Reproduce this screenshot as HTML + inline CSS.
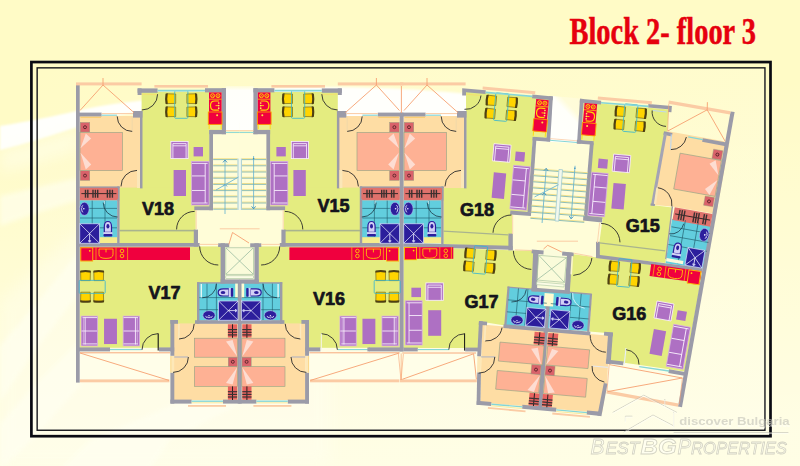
<!DOCTYPE html><html><head><meta charset="utf-8"><title>Block 2 - floor 3</title><style>html,body{margin:0;padding:0;background:#FFFBC6}svg{display:block}</style></head><body>
<svg width="800" height="466" viewBox="0 0 800 466">
<defs><linearGradient id="ing" x1="0" y1="0" x2="1" y2="1"><stop offset="0" stop-color="#FFFFF0" stop-opacity="0"/><stop offset="0.3" stop-color="#FFFFF0" stop-opacity="0.14"/><stop offset="1" stop-color="#FFFFF0" stop-opacity="0.3"/></linearGradient><linearGradient id="allg" x1="0" y1="0" x2="0.08" y2="1"><stop offset="0.25" stop-color="#FFFFF2" stop-opacity="0"/><stop offset="1" stop-color="#FFFFF2" stop-opacity="0.7"/></linearGradient><linearGradient id="rec" x1="0" y1="0" x2="0" y2="1"><stop offset="0" stop-color="#FFFCD8"/><stop offset="0.1" stop-color="#FFFFFA"/><stop offset="1" stop-color="#FFFFFC"/></linearGradient><linearGradient id="rec2" x1="1" y1="0" x2="0.3" y2="1"><stop offset="0" stop-color="#FFFCD8"/><stop offset="0.3" stop-color="#FFFCDA"/><stop offset="0.45" stop-color="#FFFFFA"/><stop offset="1" stop-color="#FFFFFC"/></linearGradient><filter id="bl" x="-20%" y="-20%" width="140%" height="140%"><feGaussianBlur stdDeviation="0.8"/></filter><filter id="bl3" x="-20%" y="-20%" width="140%" height="140%"><feGaussianBlur stdDeviation="2"/></filter><filter id="bl2" x="-20%" y="-20%" width="140%" height="140%"><feGaussianBlur stdDeviation="7"/></filter></defs>
<rect x="0" y="0" width="800" height="466" fill="#FFFBC6" />
<rect x="0" y="0" width="800" height="466" fill="url(#allg)" />
<rect x="37" y="67" width="729" height="364" fill="url(#ing)" />
<g filter="url(#bl2)" opacity="0.35">
<path d="M0 466L0 300L80 230L200 230L330 340L330 466Z" fill="#FFFFF4" stroke="none" stroke-width="1" />
</g>
<g filter="url(#bl3)" opacity="0.6">
<polygon points="80,250 80,292 34,352 0,402 0,346 34,306" fill="#FFFFF2" />
<polygon points="80,340 80,386 34,438 0,470 0,424 34,386" fill="#FFFFF2" />
<polygon points="175,404 240,404 170,440 150,470 60,470 90,440" fill="#FFFFF2" />
<polygon points="0,196 34,188 78,178 78,200 34,214 0,226" fill="#FFFFF2" />
</g>
<g filter="url(#bl)">
<path d="M0 126 C30 121 55 116 76 111 C100 105.5 130 101 170 98 C215 89 300 85 380 88 C440 90 500 96 553 105 C580 112 610 135 640 170 L640 210 C600 165 520 140 440 134 C360 128 250 128 170 112 C130 110 100 118 76 127.5 C50 136 25 144 0 150Z" fill="#FFFFFC" stroke="none" stroke-width="1" />
</g>
<g filter="url(#bl2)" opacity="0.5">
<path d="M0 150 C40 140 60 135 78 128 L78 150 C50 160 25 168 0 172Z" fill="#FFFFF0" stroke="none" stroke-width="1" />
</g>
<rect x="31.4" y="62.05" width="739.1" height="374.15" fill="none" stroke="#0a0a12" stroke-width="2.7"/>
<rect x="37.15" y="67.85" width="727.8" height="362.4" fill="none" stroke="#16161c" stroke-width="1.4"/>
<text x="569.5" y="43.9" font-family="Liberation Serif, serif" font-weight="700" font-size="38" fill="#E6000E" stroke="#E6000E" stroke-width="0.5" textLength="186.5" lengthAdjust="spacingAndGlyphs">Block 2- floor 3</text>
<g>
<rect x="79.6" y="116" width="60.9" height="72" fill="#FEDDA4" />
<rect x="79.6" y="187" width="40" height="13.6" fill="#E0726C" />
<rect x="79.6" y="200.4" width="37.8" height="42.8" fill="#62CEDE" />
<rect x="99.4" y="237.2" width="18" height="6" fill="#F6EC8C" />
<rect x="141.6" y="92" width="80.2" height="38.2" fill="#E4EC80" />
<rect x="141.6" y="130" width="68" height="78" fill="#E4EC80" />
<rect x="119.4" y="187.6" width="78.6" height="55.8" fill="#E4EC80" />
<rect x="225.8" y="86" width="14.1" height="44" fill="url(#rec)" />
<rect x="212.8" y="133.8" width="27.1" height="76.6" fill="#FFFDD8" />
<rect x="195.6" y="209.8" width="44.3" height="35.2" fill="#FFFDD8" />
<rect x="224.8" y="246.8" width="15.1" height="33.2" fill="#FAFBDA" />
<rect x="79.6" y="246.4" width="141.4" height="36.8" fill="#E4EC80" />
<rect x="79.6" y="283" width="118.4" height="64.8" fill="#E4EC80" />
<rect x="199" y="283" width="39" height="37.6" fill="#62CEDE" />
<rect x="174" y="323.4" width="64" height="76.6" fill="#FEDDA4" />
<rect x="79.6" y="351.2" width="91" height="31.2" fill="#FFFEEA" opacity="0.75"/>
</g>
<g transform="translate(479.4 0) scale(-1 1)">
<rect x="79.6" y="116" width="60.9" height="72" fill="#FEDDA4" />
<rect x="79.6" y="187" width="40" height="13.6" fill="#E0726C" />
<rect x="79.6" y="200.4" width="37.8" height="42.8" fill="#62CEDE" />
<rect x="99.4" y="237.2" width="18" height="6" fill="#F6EC8C" />
<rect x="141.6" y="92" width="80.2" height="38.2" fill="#E4EC80" />
<rect x="141.6" y="130" width="68" height="78" fill="#E4EC80" />
<rect x="119.4" y="187.6" width="78.6" height="55.8" fill="#E4EC80" />
<rect x="225.8" y="86" width="14.1" height="44" fill="url(#rec)" />
<rect x="212.8" y="133.8" width="27.1" height="76.6" fill="#FFFDD8" />
<rect x="195.6" y="209.8" width="44.3" height="35.2" fill="#FFFDD8" />
<rect x="224.8" y="246.8" width="15.1" height="33.2" fill="#FAFBDA" />
<rect x="79.6" y="246.4" width="141.4" height="36.8" fill="#E4EC80" />
<rect x="79.6" y="283" width="118.4" height="64.8" fill="#E4EC80" />
<rect x="199" y="283" width="39" height="37.6" fill="#62CEDE" />
<rect x="174" y="323.4" width="64" height="76.6" fill="#FEDDA4" />
<rect x="79.6" y="351.2" width="91" height="31.2" fill="#FFFEEA" opacity="0.75"/>
</g>
<g transform="translate(324 0)">
<rect x="79.6" y="116" width="60.9" height="72" fill="#FEDDA4" />
<rect x="79.6" y="187" width="40" height="13.6" fill="#E0726C" />
<rect x="79.6" y="200.4" width="37.8" height="42.8" fill="#62CEDE" />
<rect x="99.4" y="237.2" width="18" height="6" fill="#F6EC8C" />
</g>
<polygon points="466,91 550.5,98.5 548,138 533,137.5 528,211.5 512.5,214 512.5,247.5 443.5,244 443.5,188 466.3,188" fill="#E4EC80" />
<polygon points="552.6,96 580.2,98.6 577,141.6 550,140.4" fill="url(#rec2)" />
<polygon points="536,141 590.4,144 584.2,217 530.8,212.6" fill="#FFFDD8" />
<polygon points="512.3,214 531,212.4 584,216.8 600,222.4 596.6,256.4 512.5,250" fill="#FFFDD8" />
<polygon points="583.4,102 668.6,109.5 667.4,130 651.4,205 672.2,207.4 665.4,263 597.6,255.5 602.6,219 586,217.8 592,141.5 580.5,140.5" fill="#E4EC80" />
<polygon points="666.8,131 729.4,142.2 716.2,214 672,206.6 651.2,204.8" fill="#FEDDA4" />
<polygon points="672,219 712.8,226 704.8,268.6 665.6,263.2" fill="#62CEDE" />
<polygon points="403.6,246.4 512.5,250.4 534,250.4 532,291.4 508.6,288 505,325.4 480,321.5 478.2,348 403.6,348" fill="#E4EC80" />
<polygon points="571.4,254 597,257.4 702.4,271.4 684.6,371.6 608.8,360.6 612.6,333.6 589.4,331.6 591.6,294.6 568.6,292.6" fill="#E4EC80" />
<polygon points="508.3,287.2 591.2,294.4 588,331 505.4,326" fill="#62CEDE" />
<polygon points="537.6,254 567.4,256.6 565,289.6 535.8,287.4" fill="#FAFBDA" />
<polygon points="543.5,248.8 562.4,250.8 562,258 543.2,256" fill="#FBFCDC" />
<polygon points="482,324.4 609.6,335.8 607,383 602,413 480.4,402.4" fill="#FEDDA4" />
<rect x="403.6" y="351.2" width="73.8" height="31.4" fill="#FFFEEA" opacity="0.75"/>
<polygon points="609.3,363.7 683.2,377 679.7,406 606.7,391" fill="#FFFEEA" opacity="0.75"/>
<g>
<rect x="76" y="112.6" width="25.6" height="3.8" fill="#9B9BA8" />
<rect x="133" y="111" width="9.4" height="6.6" fill="#9B9BA8" />
<rect x="140" y="111" width="2.5" height="77.4" fill="#9B9BA8" />
<rect x="79.6" y="186.4" width="40" height="1.4" fill="#9B9BA8" />
<rect x="117.2" y="186.4" width="2.4" height="57.6" fill="#9B9BA8" />
<rect x="137.6" y="88.4" width="20" height="4.4" fill="#9B9BA8" />
<rect x="137.6" y="88.4" width="4" height="6.6" fill="#9B9BA8" />
<rect x="205" y="88.2" width="21" height="4.2" fill="#9B9BA8" />
<rect x="221.7" y="88.2" width="4.3" height="46" fill="#9B9BA8" />
<rect x="209.3" y="129.8" width="16.7" height="4.4" fill="#9B9BA8" />
<rect x="209.3" y="129.8" width="3.7" height="80.4" fill="#9B9BA8" />
<rect x="194.3" y="206.4" width="18.7" height="3.8" fill="#9B9BA8" />
<rect x="119.4" y="229.8" width="75.6" height="1.6" fill="#A9B48E" />
<rect x="193.8" y="229.6" width="4.2" height="17" fill="#9B9BA8" />
<rect x="76" y="243" width="123.6" height="3.7" fill="#9B9BA8" />
<rect x="218.1" y="243.3" width="11.1" height="3.7" fill="#9B9BA8" />
<rect x="220.6" y="243.3" width="4.4" height="40.1" fill="#9B9BA8" />
<rect x="220.6" y="279.4" width="19.3" height="4.1" fill="#9B9BA8" />
<rect x="197.2" y="282.2" width="42.7" height="1.4" fill="#9B9BA8" />
<rect x="197" y="282.2" width="2.4" height="41.4" fill="#9B9BA8" />
<rect x="195" y="320.2" width="44.9" height="3.6" fill="#9B9BA8" />
<rect x="237.7" y="283" width="2.2" height="120.6" fill="#9B9BA8" />
<rect x="235.2" y="283.6" width="2.6" height="14.4" fill="#FFFBD0" />
<rect x="76" y="347.4" width="34" height="4" fill="#9B9BA8" />
<rect x="159" y="347.4" width="15.2" height="4" fill="#9B9BA8" />
<rect x="170.4" y="320" width="3.9" height="35.8" fill="#9B9BA8" />
<rect x="170.4" y="320" width="7.6" height="3.8" fill="#9B9BA8" />
<rect x="170.4" y="372.6" width="3.9" height="31" fill="#9B9BA8" />
<rect x="170.4" y="399.6" width="21.2" height="4" fill="#9B9BA8" />
<rect x="223" y="399.6" width="16.9" height="4" fill="#9B9BA8" />
</g>
<g transform="translate(479.4 0) scale(-1 1)">
<rect x="76" y="112.6" width="25.6" height="3.8" fill="#9B9BA8" />
<rect x="133" y="111" width="9.4" height="6.6" fill="#9B9BA8" />
<rect x="140" y="111" width="2.5" height="77.4" fill="#9B9BA8" />
<rect x="79.6" y="186.4" width="40" height="1.4" fill="#9B9BA8" />
<rect x="117.2" y="186.4" width="2.4" height="57.6" fill="#9B9BA8" />
<rect x="137.6" y="88.4" width="20" height="4.4" fill="#9B9BA8" />
<rect x="137.6" y="88.4" width="4" height="6.6" fill="#9B9BA8" />
<rect x="205" y="88.2" width="21" height="4.2" fill="#9B9BA8" />
<rect x="221.7" y="88.2" width="4.3" height="46" fill="#9B9BA8" />
<rect x="209.3" y="129.8" width="16.7" height="4.4" fill="#9B9BA8" />
<rect x="209.3" y="129.8" width="3.7" height="80.4" fill="#9B9BA8" />
<rect x="194.3" y="206.4" width="18.7" height="3.8" fill="#9B9BA8" />
<rect x="119.4" y="229.8" width="75.6" height="1.6" fill="#A9B48E" />
<rect x="193.8" y="229.6" width="4.2" height="17" fill="#9B9BA8" />
<rect x="76" y="243" width="123.6" height="3.7" fill="#9B9BA8" />
<rect x="218.1" y="243.3" width="11.1" height="3.7" fill="#9B9BA8" />
<rect x="220.6" y="243.3" width="4.4" height="40.1" fill="#9B9BA8" />
<rect x="220.6" y="279.4" width="19.3" height="4.1" fill="#9B9BA8" />
<rect x="197.2" y="282.2" width="42.7" height="1.4" fill="#9B9BA8" />
<rect x="197" y="282.2" width="2.4" height="41.4" fill="#9B9BA8" />
<rect x="195" y="320.2" width="44.9" height="3.6" fill="#9B9BA8" />
<rect x="237.7" y="283" width="2.2" height="120.6" fill="#9B9BA8" />
<rect x="235.2" y="283.6" width="2.6" height="14.4" fill="#FFFBD0" />
<rect x="76" y="347.4" width="34" height="4" fill="#9B9BA8" />
<rect x="159" y="347.4" width="15.2" height="4" fill="#9B9BA8" />
<rect x="170.4" y="320" width="3.9" height="35.8" fill="#9B9BA8" />
<rect x="170.4" y="320" width="7.6" height="3.8" fill="#9B9BA8" />
<rect x="170.4" y="372.6" width="3.9" height="31" fill="#9B9BA8" />
<rect x="170.4" y="399.6" width="21.2" height="4" fill="#9B9BA8" />
<rect x="223" y="399.6" width="16.9" height="4" fill="#9B9BA8" />
</g>
<g transform="translate(324 0)">
<rect x="76" y="112.6" width="25.6" height="3.8" fill="#9B9BA8" />
<rect x="133" y="111" width="9.4" height="6.6" fill="#9B9BA8" />
<rect x="140" y="111" width="2.5" height="77.4" fill="#9B9BA8" />
<rect x="79.6" y="186.4" width="40" height="1.4" fill="#9B9BA8" />
<rect x="117.2" y="186.4" width="2.4" height="57.6" fill="#9B9BA8" />
</g>
<rect x="76" y="83" width="3.7" height="299.6" fill="#9B9BA8" />
<rect x="399.7" y="113" width="3.9" height="238.4" fill="#9B9BA8" />
<polygon points="403.6,243 512.6,245.9 512.6,249.8 403.6,246.7" fill="#9B9BA8" />
<polygon points="443.4,230.4 508,234.2 508,235.6 443.4,231.8" fill="#A9B48E" />
<rect x="508.4" y="233.6" width="4.4" height="16.8" fill="#9B9BA8" />
<polygon points="462.2,88.2 485.8,90.3 485.5,94 466,92.3 466,95.6 462.2,95.4" fill="#9B9BA8" />
<polygon points="532.3,94.6 552.9,96.4 552.6,100.2 532,98.3" fill="#9B9BA8" />
<polygon points="549.2,96.1 552.9,96.4 550.2,141.6 546.5,141.3" fill="#9B9BA8" />
<polygon points="532.8,136.8 550.3,138.1 550,141.7 532.5,140.6" fill="#9B9BA8" />
<polygon points="532.8,137 536.5,137.2 531.3,212.6 527.5,212.3" fill="#9B9BA8" />
<polygon points="510.4,210.6 531.2,212.2 530.9,216 510.1,214.4" fill="#9B9BA8" />
<polygon points="580,98.8 601.2,100.7 600.9,104.4 579.7,102.5" fill="#9B9BA8" />
<polygon points="580,98.8 583.7,99.1 580.7,143.7 577,143.4" fill="#9B9BA8" />
<polygon points="576.9,139.8 593.8,141.1 593.5,144.8 576.6,143.5" fill="#9B9BA8" />
<polygon points="589.9,143 593.7,143.3 587.6,217.6 583.8,217.3" fill="#9B9BA8" />
<polygon points="583.4,215.6 602.4,217.4 602,222.4 583,220.4" fill="#9B9BA8" />
<polygon points="648.4,104 671.9,105.9 671.4,112.2 668,111.9 668.2,109.2 648.1,107.6" fill="#9B9BA8" />
<polygon points="664,131.2 672.5,132.9 671.8,136.4 663.3,134.8" fill="#9B9BA8" />
<polygon points="702.8,138.2 726.4,142.6 725.7,146.2 702.1,141.8" fill="#9B9BA8" />
<polygon points="663.92,133.23 650.92,205.13 653.88,205.67 666.88,133.77" fill="#A4A4B4" />
<polygon points="730.6,111.4 734.6,112.1 682,407.2 678,406.4" fill="#9B9BA8" />
<polygon points="671.71,206.31 665.11,258.91 666.49,259.09 673.09,206.49" fill="#9B9BA8" />
<polygon points="650.6,203.4 655,204 654.8,206 650.4,205.4" fill="#9B9BA8" />
<polygon points="596.2,254.4 702.8,268 702.2,271.6 595.8,258" fill="#9B9BA8" />
<rect x="596" y="241.8" width="3.8" height="14.2" fill="#9B9BA8" />
<polygon points="599.6,242.2 665.4,250.2 665.2,251.4 599.4,243.4" fill="#A9B48E" />
<polygon points="531.8,249.4 543.7,250.6 543.4,254.4 531.5,253.2" fill="#9B9BA8" />
<polygon points="562.3,251.6 573.8,252.7 573.5,256.6 562,255.5" fill="#9B9BA8" />
<polygon points="533.2,250 538.7,250.4 536.9,291.6 531.5,291.2" fill="#9B9BA8" />
<polygon points="567.2,252.3 572.5,252.8 569.7,293.3 564.5,292.9" fill="#9B9BA8" />
<polygon points="531.7,287.6 569.9,290.4 569.6,294 531.4,291.2" fill="#9B9BA8" />
<polygon points="507.6,286.4 591.8,293.6 591.7,295 507.5,287.8" fill="#9B9BA8" />
<polygon points="507.5,286.51 504.1,326.51 506.3,326.69 509.7,286.69" fill="#9B9BA8" />
<polygon points="589.9,293.92 587.1,331.72 589.3,331.88 592.1,294.08" fill="#9B9BA8" />
<polygon points="503.6,324.2 590.4,331.8 590.1,335.6 503.3,328" fill="#9B9BA8" />
<polygon points="479,321 487.2,321.8 486.9,325.5 478.7,324.7" fill="#9B9BA8" />
<polygon points="604.2,331.8 613,332.6 612.7,336.4 603.9,335.6" fill="#9B9BA8" />
<rect x="0" y="0" width="0" height="0" fill="#9B9BA8" />
<polygon points="545.6,306 549.7,306.3 542,408.6 537.9,408.3" fill="#9B9BA8" />
<polygon points="544.6,293 553.8,293.7 553,306.6 543.8,305.9" fill="#FFFBD0" />
<polygon points="479,321 482.8,321.3 481,356.4 477.2,356.2" fill="#9B9BA8" />
<polygon points="477.2,372.2 481,372.4 480.4,405 476.6,404.8" fill="#9B9BA8" />
<rect x="403.6" y="347.6" width="14.2" height="3.8" fill="#9B9BA8" />
<rect x="465.2" y="347.6" width="13.2" height="3.8" fill="#9B9BA8" />
<polygon points="476.8,400.8 491.4,402.1 491.1,406 476.5,404.7" fill="#9B9BA8" />
<polygon points="522.4,404.8 556.4,407.8 556.1,411.8 522.1,408.8" fill="#9B9BA8" />
<polygon points="587,410.4 601.4,411.7 600.4,416 586.6,414.4" fill="#9B9BA8" />
<polygon points="608.2,332.4 612.9,332.8 610.6,364.2 606,363.8" fill="#9B9BA8" />
<polygon points="603.8,383 607.5,383.7 601.4,416.2 597.4,415.4" fill="#9B9BA8" />
<polygon points="606.3,359.4 623.6,361.6 623.1,365.2 605.8,363.2" fill="#9B9BA8" />
<polygon points="669,369.3 686.2,372.3 685.6,376 668.4,373" fill="#9B9BA8" />
<g>
<g transform="translate(85 127.2)">
<rect x="-4.8" y="-4.8" width="9.6" height="9.6" fill="#D9626A" stroke="#8FA383" stroke-width="0.4"/>
<circle cx="0" cy="0" r="1.5" fill="none" stroke="#3a1418" stroke-width="0.7"/>
</g>
<g transform="translate(85 175.6)">
<rect x="-4.8" y="-4.8" width="9.6" height="9.6" fill="#D9626A" stroke="#8FA383" stroke-width="0.4"/>
<circle cx="0" cy="0" r="1.5" fill="none" stroke="#3a1418" stroke-width="0.7"/>
</g>
<g transform="translate(101.2 151.5)">
<rect x="-21.2" y="-19.1" width="42.4" height="38.2" fill="#FEB194" stroke="#8FA383" stroke-width="0.6"/>
</g>
<polygon points="80.5,148.2 85.8,133.6 91.2,138.4" fill="#FDDDD2" />
<polygon points="80.5,152.8 85.8,169.6 91.2,164.4" fill="#FDDDD2" />
<g transform="translate(99 193.6)">
<rect x="-19" y="-5.3" width="38" height="10.6" fill="#E0726C"/>
<line x1="-17.6" y1="0" x2="17.4" y2="0" stroke="#2a2020" stroke-width="0.9"/>
<line x1="-13.5" y1="-3.8" x2="-13.5" y2="4.1" stroke="#3a3030" stroke-width="1.4"/>
<line x1="-11.2" y1="-3.8" x2="-11.2" y2="4.1" stroke="#3a3030" stroke-width="1.4"/>
<line x1="-6" y1="-3.8" x2="-6" y2="4.1" stroke="#3a3030" stroke-width="1.4"/>
<line x1="-3.6" y1="-3.8" x2="-3.6" y2="4.1" stroke="#3a3030" stroke-width="1.4"/>
<line x1="-1.3" y1="-3.8" x2="-1.3" y2="4.1" stroke="#3a3030" stroke-width="1.4"/>
<line x1="8.4" y1="-3.8" x2="8.4" y2="4.1" stroke="#3a3030" stroke-width="1.4"/>
<line x1="10.9" y1="-3.8" x2="10.9" y2="4.1" stroke="#3a3030" stroke-width="1.4"/>
<line x1="13.4" y1="-3.8" x2="13.4" y2="4.1" stroke="#3a3030" stroke-width="1.4"/>
</g>
<line x1="92.2" y1="200.6" x2="92.2" y2="236.6" stroke="#1d5868" stroke-width="0.6" />
<line x1="105" y1="200.6" x2="105" y2="236.6" stroke="#1d5868" stroke-width="0.6" />
<line x1="80" y1="208.4" x2="117" y2="208.4" stroke="#1d5868" stroke-width="0.6" />
<line x1="80" y1="218" x2="117" y2="218" stroke="#1d5868" stroke-width="0.6" />
<line x1="80" y1="227.8" x2="117" y2="227.8" stroke="#1d5868" stroke-width="0.6" />
<g transform="translate(84.4 208.8)">
<ellipse cx="0" cy="0" rx="4.7" ry="6.5" fill="#2C1E9C" stroke="#C8CCF4" stroke-width="0.5"/>
<path d="M-1.2 -3.4Q-3.4 -2.6 -2.4 -1.2Q-3.8 0 -2.4 1.2Q-3.4 2.6 -1.2 3.4" fill="none" stroke="#F0F0FF" stroke-width="0.8"/>
<circle cx="-0.6" cy="0" r="0.8" fill="#F0F0FF"/>
</g>
<g transform="translate(89.6 233.5)">
<rect x="-9.8" y="-9.7" width="19.6" height="19.4" fill="#2C1E9C" stroke="#D6DCFA" stroke-width="0.7"/>
<path d="M-9.8 -9.7L9.8 9.7M9.8 -9.7L-9.8 9.7" stroke="#EEF0FF" stroke-width="0.7" fill="none"/>
<g transform="rotate(0)"><path d="M0 0V7.3M-1.6 7.3H1.6" stroke="#EEF0FF" stroke-width="0.8" fill="none"/><circle cx="0" cy="7.9" r="1.1" fill="#C8CCF4"/></g>
</g>
<g transform="translate(107.9 228.9)">
<path d="M-3.6 3.4V-2.4Q-3.6 -7.4 0 -7.4Q3.6 -7.4 3.6 -2.4V3.4Z" fill="#D2D0F6" stroke="#2C1E9C" stroke-width="1.2"/>
<ellipse cx="0" cy="-2.6" rx="1.5" ry="2.3" fill="#2C1E9C"/>
<rect x="-4.6" y="3.2" width="9.2" height="2.2" fill="#D2D0F6"/>
<rect x="-4.4" y="5.2" width="8.8" height="2.4" rx="0.8" fill="#2C1E9C"/>
</g>
<g transform="translate(181.3 105.3)">
<g transform="translate(-10.6 -6.6) rotate(270)">
<path d="M-4.9 -3.6Q0 -4.4 4.9 -3.6L4.7 5L-4.7 5Z" fill="#FFD400" stroke="#7a6a18" stroke-width="0.7" />
<path d="M-5.4 -3Q-5.6 -4.6 -5 -5.2Q0 -6 5 -5.2Q5.6 -4.6 5.4 -3Q0 -4 -5.4 -3Z" fill="#4e4012" stroke="none" stroke-width="1" />
</g>
<g transform="translate(-10.6 6.5) rotate(270)">
<path d="M-4.9 -3.6Q0 -4.4 4.9 -3.6L4.7 5L-4.7 5Z" fill="#FFD400" stroke="#7a6a18" stroke-width="0.7" />
<path d="M-5.4 -3Q-5.6 -4.6 -5 -5.2Q0 -6 5 -5.2Q5.6 -4.6 5.4 -3Q0 -4 -5.4 -3Z" fill="#4e4012" stroke="none" stroke-width="1" />
</g>
<g transform="translate(10.6 -6.6) rotate(90)">
<path d="M-4.9 -3.6Q0 -4.4 4.9 -3.6L4.7 5L-4.7 5Z" fill="#FFD400" stroke="#7a6a18" stroke-width="0.7" />
<path d="M-5.4 -3Q-5.6 -4.6 -5 -5.2Q0 -6 5 -5.2Q5.6 -4.6 5.4 -3Q0 -4 -5.4 -3Z" fill="#4e4012" stroke="none" stroke-width="1" />
</g>
<g transform="translate(10.6 6.5) rotate(90)">
<path d="M-4.9 -3.6Q0 -4.4 4.9 -3.6L4.7 5L-4.7 5Z" fill="#FFD400" stroke="#7a6a18" stroke-width="0.7" />
<path d="M-5.4 -3Q-5.6 -4.6 -5 -5.2Q0 -6 5 -5.2Q5.6 -4.6 5.4 -3Q0 -4 -5.4 -3Z" fill="#4e4012" stroke="none" stroke-width="1" />
</g>
<rect x="-6.6" y="-14.6" width="13.2" height="27.6" rx="1" fill="none" stroke="#35b4d2" stroke-width="0.8"/>
</g>
<g transform="translate(215.3 108.4)">
<rect x="-6.3" y="15.5" width="12.6" height="5.8" fill="#EDF08E"/>
<rect x="-6.3" y="-16" width="12.6" height="32" fill="#F0003E"/>
<circle cx="-2.7" cy="-12.7" r="2" fill="none" stroke="#FFD800" stroke-width="0.9"/><circle cx="2.7" cy="-12.7" r="2" fill="none" stroke="#FFD800" stroke-width="0.9"/>
<path d="M-4 -14L-1.4 -11.4M-1.4 -14L-4 -11.4M1.4 -14L4 -11.4M4 -14L1.4 -11.4" fill="none" stroke="#FFD800" stroke-width="0.5"/>
<line x1="-6.3" y1="-9.2" x2="6.3" y2="-9.2" stroke="#FFD800" stroke-width="0.7"/>
<path d="M3.6 -7.4H-0.6Q-4.8 -7.4 -4.8 -2.8Q-4.8 1.8 -0.6 1.8H3.6" fill="none" stroke="#FFD800" stroke-width="1.2"/>
<line x1="0.2" y1="-2.8" x2="3" y2="-2.8" stroke="#FFD800" stroke-width="0.9"/>
<circle cx="3.4" cy="-5.4" r="0.85" fill="#FFE860"/>
<circle cx="3.4" cy="-2.8" r="0.85" fill="#FFE860"/>
<circle cx="3.4" cy="-0.2" r="0.85" fill="#FFE860"/>
<rect x="-7" y="3.6" width="13.7" height="12.4" fill="#F0003E" stroke="#FF9800" stroke-width="0.9"/>
<circle cx="1.8" cy="6.8" r="1" fill="#FFE040"/>
<path d="M-6.1 16V20.8M5.9 16V20.8" stroke="#FFD800" stroke-width="0.8" fill="none"/>
</g>
<g transform="translate(179.5 150)">
<rect x="-8.6" y="-8.6" width="17.2" height="17.2" fill="#AE70C3" stroke="#FBF3FF" stroke-width="0.8"/>
<path d="M-6.6 8.6V-6.4H6.6V8.6M-6.6 -4.2H6.6" fill="none" stroke="#FBF3FF" stroke-width="0.8"/>
</g>
<g transform="translate(198.3 151.7)">
<rect x="-4.7" y="-4.7" width="9.4" height="9.4" fill="#AE70C3"/>
</g>
<g transform="translate(179.8 183)">
<rect x="-6.2" y="-13" width="12.4" height="26" fill="#AE70C3"/>
</g>
<g transform="translate(200.3 183.2)">
<rect x="-8.7" y="-21.8" width="17.4" height="43.6" fill="#AE70C3" stroke="#D9B0E8" stroke-width="0.7"/>
<path d="M4.9 -19.8V19.8M-8.3 -19.8H7.3M-8.3 19.8H7.3M-8.3 -7.27H4.9M-8.3 7.27H4.9" fill="none" stroke="#FBF3FF" stroke-width="0.85"/>
</g>
<g transform="translate(80.4 247.4)">
<rect x="0" y="0" width="109.6" height="12.6" fill="#F0003E"/>
<rect x="0" y="0" width="12.6" height="13.8" fill="#F0003E"/>
<rect x="0.4" y="0.4" width="12" height="13.2" fill="none" stroke="#FFD800" stroke-width="0.8"/>
<circle cx="9.4" cy="3.4" r="0.9" fill="#FFD800"/>
<path d="M18.6 1.6V7Q18.6 11 25.6 11Q32.6 11 32.6 7V1.6Z" fill="none" stroke="#FFD800" stroke-width="0.8"/>
<line x1="25.6" y1="1.6" x2="25.6" y2="5" stroke="#FFD800" stroke-width="0.8"/>
<line x1="15.6" y1="0" x2="15.6" y2="12.6" stroke="#FFD800" stroke-width="0.6"/>
<line x1="35.6" y1="0" x2="35.6" y2="12.6" stroke="#FFD800" stroke-width="0.6"/>
<circle cx="41.6" cy="3.6" r="1.8" fill="none" stroke="#FFD800" stroke-width="0.8"/><circle cx="41.6" cy="8.6" r="1.8" fill="none" stroke="#FFD800" stroke-width="0.8"/>
<line x1="47.2" y1="0" x2="47.2" y2="12.6" stroke="#FFD800" stroke-width="0.6"/>
</g>
<g transform="translate(92.2 286.6)">
<g transform="translate(-6.7 -11)">
<path d="M-4.9 -3.6Q0 -4.4 4.9 -3.6L4.7 5L-4.7 5Z" fill="#FFD400" stroke="#7a6a18" stroke-width="0.7" />
<path d="M-5.4 -3Q-5.6 -4.6 -5 -5.2Q0 -6 5 -5.2Q5.6 -4.6 5.4 -3Q0 -4 -5.4 -3Z" fill="#4e4012" stroke="none" stroke-width="1" />
</g>
<g transform="translate(-6.7 10.6) rotate(180)">
<path d="M-4.9 -3.6Q0 -4.4 4.9 -3.6L4.7 5L-4.7 5Z" fill="#FFD400" stroke="#7a6a18" stroke-width="0.7" />
<path d="M-5.4 -3Q-5.6 -4.6 -5 -5.2Q0 -6 5 -5.2Q5.6 -4.6 5.4 -3Q0 -4 -5.4 -3Z" fill="#4e4012" stroke="none" stroke-width="1" />
</g>
<g transform="translate(6.5 -11)">
<path d="M-4.9 -3.6Q0 -4.4 4.9 -3.6L4.7 5L-4.7 5Z" fill="#FFD400" stroke="#7a6a18" stroke-width="0.7" />
<path d="M-5.4 -3Q-5.6 -4.6 -5 -5.2Q0 -6 5 -5.2Q5.6 -4.6 5.4 -3Q0 -4 -5.4 -3Z" fill="#4e4012" stroke="none" stroke-width="1" />
</g>
<g transform="translate(6.5 10.6) rotate(180)">
<path d="M-4.9 -3.6Q0 -4.4 4.9 -3.6L4.7 5L-4.7 5Z" fill="#FFD400" stroke="#7a6a18" stroke-width="0.7" />
<path d="M-5.4 -3Q-5.6 -4.6 -5 -5.2Q0 -6 5 -5.2Q5.6 -4.6 5.4 -3Q0 -4 -5.4 -3Z" fill="#4e4012" stroke="none" stroke-width="1" />
</g>
<rect x="-13" y="-6.2" width="26" height="13" rx="1" fill="none" stroke="#35b4d2" stroke-width="0.8"/>
</g>
<g transform="translate(89.3 331)">
<rect x="-8.15" y="-14.9" width="16.3" height="29.8" fill="#AE70C3" stroke="#D9B0E8" stroke-width="0.7"/>
<path d="M-4.15 -13.5V13.5M-6.75 -13.4H7.75M-6.75 12.9H7.75M-7.75 0H7.75" fill="none" stroke="#FBF3FF" stroke-width="0.85"/>
<path d="M-5.95 -13.5V13.5" fill="none" stroke="#E6CCF0" stroke-width="0.6"/>
</g>
<g transform="translate(110.5 331.4)">
<rect x="-6.45" y="-12.65" width="12.9" height="25.3" fill="#AE70C3"/>
</g>
<g transform="translate(131.3 331) scale(-1 1)">
<rect x="-8.15" y="-14.9" width="16.3" height="29.8" fill="#AE70C3" stroke="#D9B0E8" stroke-width="0.7"/>
<path d="M-4.15 -13.5V13.5M-6.75 -13.4H7.75M-6.75 12.9H7.75M-7.75 0H7.75" fill="none" stroke="#FBF3FF" stroke-width="0.85"/>
<path d="M-5.95 -13.5V13.5" fill="none" stroke="#E6CCF0" stroke-width="0.6"/>
</g>
<line x1="207" y1="283.6" x2="207" y2="320" stroke="#1d5868" stroke-width="0.6" />
<line x1="216.4" y1="283.6" x2="216.4" y2="320" stroke="#1d5868" stroke-width="0.6" />
<line x1="199.4" y1="297.6" x2="237.8" y2="297.6" stroke="#1d5868" stroke-width="0.6" />
<line x1="199.4" y1="309.7" x2="237.8" y2="309.7" stroke="#1d5868" stroke-width="0.6" />
<g transform="translate(225.6 292.4) rotate(-90)">
<path d="M-3.6 3.4V-2.4Q-3.6 -7.4 0 -7.4Q3.6 -7.4 3.6 -2.4V3.4Z" fill="#D2D0F6" stroke="#2C1E9C" stroke-width="1.2"/>
<ellipse cx="0" cy="-2.6" rx="1.5" ry="2.3" fill="#2C1E9C"/>
<rect x="-4.6" y="3.2" width="9.2" height="2.2" fill="#D2D0F6"/>
<rect x="-4.4" y="5.2" width="8.8" height="2.4" rx="0.8" fill="#2C1E9C"/>
</g>
<g transform="translate(228.3 310.6)">
<rect x="-9.7" y="-9.6" width="19.4" height="19.2" fill="#2C1E9C" stroke="#D6DCFA" stroke-width="0.7"/>
<path d="M-9.7 -9.6L9.7 9.6M9.7 -9.6L-9.7 9.6" stroke="#EEF0FF" stroke-width="0.7" fill="none"/>
<g transform="rotate(270)"><path d="M0 0V7.2M-1.6 7.2H1.6" stroke="#EEF0FF" stroke-width="0.8" fill="none"/><circle cx="0" cy="7.8" r="1.1" fill="#C8CCF4"/></g>
</g>
<g transform="translate(209 315.3)">
<ellipse cx="0" cy="0" rx="6.1" ry="4.6" fill="#2C1E9C" stroke="#C8CCF4" stroke-width="0.5"/>
<path d="M-3.4 0.6Q-2.6 3.2 -1.2 1.8Q0 3.6 1.2 1.8Q2.6 3.2 3.4 0.6" fill="none" stroke="#F0F0FF" stroke-width="0.8"/>
<circle cx="0" cy="0.4" r="0.7" fill="#F0F0FF"/>
</g>
<g transform="translate(232.5 330.9)">
<rect x="-4.6" y="-6.6" width="9.2" height="13.2" fill="#E86460"/>
<line x1="0" y1="-6.6" x2="0" y2="7" stroke="#2a2020" stroke-width="1"/>
<line x1="-4.6" y1="-1.3" x2="4.6" y2="-1.3" stroke="#3a3434" stroke-width="1.2"/>
<line x1="-4.6" y1="1.4" x2="4.6" y2="1.4" stroke="#3a3434" stroke-width="1.2"/>
<line x1="-4.6" y1="4" x2="4.6" y2="4" stroke="#3a3434" stroke-width="1.2"/>
</g>
<g transform="translate(216 347.7)">
<rect x="-21.6" y="-9.5" width="43.2" height="19" fill="#FEB194" stroke="#8FA383" stroke-width="0.6"/>
</g>
<g transform="translate(216 376.5)">
<rect x="-21.6" y="-9.8" width="43.2" height="19.6" fill="#FEB194" stroke="#8FA383" stroke-width="0.6"/>
</g>
<g transform="translate(232.8 361.8)">
<rect x="-4.6" y="-4.6" width="9.2" height="9.2" fill="#D9626A" stroke="#8FA383" stroke-width="0.4"/>
<circle cx="0" cy="0" r="1.5" fill="none" stroke="#3a1418" stroke-width="0.7"/>
</g>
<polygon points="226,341.5 232.6,340 237.2,356.5" fill="#FDDDD2" />
<polygon points="237.2,367.2 232.6,384.5 226,383" fill="#FDDDD2" />
<g transform="translate(232.5 393)">
<rect x="-4.6" y="-6.6" width="9.2" height="13.2" fill="#E86460"/>
<line x1="0" y1="-6.6" x2="0" y2="7" stroke="#2a2020" stroke-width="1"/>
<line x1="-4.6" y1="-1.3" x2="4.6" y2="-1.3" stroke="#3a3434" stroke-width="1.2"/>
<line x1="-4.6" y1="1.4" x2="4.6" y2="1.4" stroke="#3a3434" stroke-width="1.2"/>
<line x1="-4.6" y1="4" x2="4.6" y2="4" stroke="#3a3434" stroke-width="1.2"/>
</g>
</g>
<g transform="translate(479.4 0) scale(-1 1)">
<g transform="translate(85 127.2)">
<rect x="-4.8" y="-4.8" width="9.6" height="9.6" fill="#D9626A" stroke="#8FA383" stroke-width="0.4"/>
<circle cx="0" cy="0" r="1.5" fill="none" stroke="#3a1418" stroke-width="0.7"/>
</g>
<g transform="translate(85 175.6)">
<rect x="-4.8" y="-4.8" width="9.6" height="9.6" fill="#D9626A" stroke="#8FA383" stroke-width="0.4"/>
<circle cx="0" cy="0" r="1.5" fill="none" stroke="#3a1418" stroke-width="0.7"/>
</g>
<g transform="translate(101.2 151.5)">
<rect x="-21.2" y="-19.1" width="42.4" height="38.2" fill="#FEB194" stroke="#8FA383" stroke-width="0.6"/>
</g>
<polygon points="80.5,148.2 85.8,133.6 91.2,138.4" fill="#FDDDD2" />
<polygon points="80.5,152.8 85.8,169.6 91.2,164.4" fill="#FDDDD2" />
<g transform="translate(99 193.6)">
<rect x="-19" y="-5.3" width="38" height="10.6" fill="#E0726C"/>
<line x1="-17.6" y1="0" x2="17.4" y2="0" stroke="#2a2020" stroke-width="0.9"/>
<line x1="-13.5" y1="-3.8" x2="-13.5" y2="4.1" stroke="#3a3030" stroke-width="1.4"/>
<line x1="-11.2" y1="-3.8" x2="-11.2" y2="4.1" stroke="#3a3030" stroke-width="1.4"/>
<line x1="-6" y1="-3.8" x2="-6" y2="4.1" stroke="#3a3030" stroke-width="1.4"/>
<line x1="-3.6" y1="-3.8" x2="-3.6" y2="4.1" stroke="#3a3030" stroke-width="1.4"/>
<line x1="-1.3" y1="-3.8" x2="-1.3" y2="4.1" stroke="#3a3030" stroke-width="1.4"/>
<line x1="8.4" y1="-3.8" x2="8.4" y2="4.1" stroke="#3a3030" stroke-width="1.4"/>
<line x1="10.9" y1="-3.8" x2="10.9" y2="4.1" stroke="#3a3030" stroke-width="1.4"/>
<line x1="13.4" y1="-3.8" x2="13.4" y2="4.1" stroke="#3a3030" stroke-width="1.4"/>
</g>
<line x1="92.2" y1="200.6" x2="92.2" y2="236.6" stroke="#1d5868" stroke-width="0.6" />
<line x1="105" y1="200.6" x2="105" y2="236.6" stroke="#1d5868" stroke-width="0.6" />
<line x1="80" y1="208.4" x2="117" y2="208.4" stroke="#1d5868" stroke-width="0.6" />
<line x1="80" y1="218" x2="117" y2="218" stroke="#1d5868" stroke-width="0.6" />
<line x1="80" y1="227.8" x2="117" y2="227.8" stroke="#1d5868" stroke-width="0.6" />
<g transform="translate(84.4 208.8)">
<ellipse cx="0" cy="0" rx="4.7" ry="6.5" fill="#2C1E9C" stroke="#C8CCF4" stroke-width="0.5"/>
<path d="M-1.2 -3.4Q-3.4 -2.6 -2.4 -1.2Q-3.8 0 -2.4 1.2Q-3.4 2.6 -1.2 3.4" fill="none" stroke="#F0F0FF" stroke-width="0.8"/>
<circle cx="-0.6" cy="0" r="0.8" fill="#F0F0FF"/>
</g>
<g transform="translate(89.6 233.5)">
<rect x="-9.8" y="-9.7" width="19.6" height="19.4" fill="#2C1E9C" stroke="#D6DCFA" stroke-width="0.7"/>
<path d="M-9.8 -9.7L9.8 9.7M9.8 -9.7L-9.8 9.7" stroke="#EEF0FF" stroke-width="0.7" fill="none"/>
<g transform="rotate(0)"><path d="M0 0V7.3M-1.6 7.3H1.6" stroke="#EEF0FF" stroke-width="0.8" fill="none"/><circle cx="0" cy="7.9" r="1.1" fill="#C8CCF4"/></g>
</g>
<g transform="translate(107.9 228.9)">
<path d="M-3.6 3.4V-2.4Q-3.6 -7.4 0 -7.4Q3.6 -7.4 3.6 -2.4V3.4Z" fill="#D2D0F6" stroke="#2C1E9C" stroke-width="1.2"/>
<ellipse cx="0" cy="-2.6" rx="1.5" ry="2.3" fill="#2C1E9C"/>
<rect x="-4.6" y="3.2" width="9.2" height="2.2" fill="#D2D0F6"/>
<rect x="-4.4" y="5.2" width="8.8" height="2.4" rx="0.8" fill="#2C1E9C"/>
</g>
<g transform="translate(181.3 105.3)">
<g transform="translate(-10.6 -6.6) rotate(270)">
<path d="M-4.9 -3.6Q0 -4.4 4.9 -3.6L4.7 5L-4.7 5Z" fill="#FFD400" stroke="#7a6a18" stroke-width="0.7" />
<path d="M-5.4 -3Q-5.6 -4.6 -5 -5.2Q0 -6 5 -5.2Q5.6 -4.6 5.4 -3Q0 -4 -5.4 -3Z" fill="#4e4012" stroke="none" stroke-width="1" />
</g>
<g transform="translate(-10.6 6.5) rotate(270)">
<path d="M-4.9 -3.6Q0 -4.4 4.9 -3.6L4.7 5L-4.7 5Z" fill="#FFD400" stroke="#7a6a18" stroke-width="0.7" />
<path d="M-5.4 -3Q-5.6 -4.6 -5 -5.2Q0 -6 5 -5.2Q5.6 -4.6 5.4 -3Q0 -4 -5.4 -3Z" fill="#4e4012" stroke="none" stroke-width="1" />
</g>
<g transform="translate(10.6 -6.6) rotate(90)">
<path d="M-4.9 -3.6Q0 -4.4 4.9 -3.6L4.7 5L-4.7 5Z" fill="#FFD400" stroke="#7a6a18" stroke-width="0.7" />
<path d="M-5.4 -3Q-5.6 -4.6 -5 -5.2Q0 -6 5 -5.2Q5.6 -4.6 5.4 -3Q0 -4 -5.4 -3Z" fill="#4e4012" stroke="none" stroke-width="1" />
</g>
<g transform="translate(10.6 6.5) rotate(90)">
<path d="M-4.9 -3.6Q0 -4.4 4.9 -3.6L4.7 5L-4.7 5Z" fill="#FFD400" stroke="#7a6a18" stroke-width="0.7" />
<path d="M-5.4 -3Q-5.6 -4.6 -5 -5.2Q0 -6 5 -5.2Q5.6 -4.6 5.4 -3Q0 -4 -5.4 -3Z" fill="#4e4012" stroke="none" stroke-width="1" />
</g>
<rect x="-6.6" y="-14.6" width="13.2" height="27.6" rx="1" fill="none" stroke="#35b4d2" stroke-width="0.8"/>
</g>
<g transform="translate(215.3 108.4)">
<rect x="-6.3" y="15.5" width="12.6" height="5.8" fill="#EDF08E"/>
<rect x="-6.3" y="-16" width="12.6" height="32" fill="#F0003E"/>
<circle cx="-2.7" cy="-12.7" r="2" fill="none" stroke="#FFD800" stroke-width="0.9"/><circle cx="2.7" cy="-12.7" r="2" fill="none" stroke="#FFD800" stroke-width="0.9"/>
<path d="M-4 -14L-1.4 -11.4M-1.4 -14L-4 -11.4M1.4 -14L4 -11.4M4 -14L1.4 -11.4" fill="none" stroke="#FFD800" stroke-width="0.5"/>
<line x1="-6.3" y1="-9.2" x2="6.3" y2="-9.2" stroke="#FFD800" stroke-width="0.7"/>
<path d="M3.6 -7.4H-0.6Q-4.8 -7.4 -4.8 -2.8Q-4.8 1.8 -0.6 1.8H3.6" fill="none" stroke="#FFD800" stroke-width="1.2"/>
<line x1="0.2" y1="-2.8" x2="3" y2="-2.8" stroke="#FFD800" stroke-width="0.9"/>
<circle cx="3.4" cy="-5.4" r="0.85" fill="#FFE860"/>
<circle cx="3.4" cy="-2.8" r="0.85" fill="#FFE860"/>
<circle cx="3.4" cy="-0.2" r="0.85" fill="#FFE860"/>
<rect x="-7" y="3.6" width="13.7" height="12.4" fill="#F0003E" stroke="#FF9800" stroke-width="0.9"/>
<circle cx="1.8" cy="6.8" r="1" fill="#FFE040"/>
<path d="M-6.1 16V20.8M5.9 16V20.8" stroke="#FFD800" stroke-width="0.8" fill="none"/>
</g>
<g transform="translate(179.5 150)">
<rect x="-8.6" y="-8.6" width="17.2" height="17.2" fill="#AE70C3" stroke="#FBF3FF" stroke-width="0.8"/>
<path d="M-6.6 8.6V-6.4H6.6V8.6M-6.6 -4.2H6.6" fill="none" stroke="#FBF3FF" stroke-width="0.8"/>
</g>
<g transform="translate(198.3 151.7)">
<rect x="-4.7" y="-4.7" width="9.4" height="9.4" fill="#AE70C3"/>
</g>
<g transform="translate(179.8 183)">
<rect x="-6.2" y="-13" width="12.4" height="26" fill="#AE70C3"/>
</g>
<g transform="translate(200.3 183.2)">
<rect x="-8.7" y="-21.8" width="17.4" height="43.6" fill="#AE70C3" stroke="#D9B0E8" stroke-width="0.7"/>
<path d="M4.9 -19.8V19.8M-8.3 -19.8H7.3M-8.3 19.8H7.3M-8.3 -7.27H4.9M-8.3 7.27H4.9" fill="none" stroke="#FBF3FF" stroke-width="0.85"/>
</g>
<g transform="translate(80.4 247.4)">
<rect x="0" y="0" width="109.6" height="12.6" fill="#F0003E"/>
<rect x="0" y="0" width="12.6" height="13.8" fill="#F0003E"/>
<rect x="0.4" y="0.4" width="12" height="13.2" fill="none" stroke="#FFD800" stroke-width="0.8"/>
<circle cx="9.4" cy="3.4" r="0.9" fill="#FFD800"/>
<path d="M18.6 1.6V7Q18.6 11 25.6 11Q32.6 11 32.6 7V1.6Z" fill="none" stroke="#FFD800" stroke-width="0.8"/>
<line x1="25.6" y1="1.6" x2="25.6" y2="5" stroke="#FFD800" stroke-width="0.8"/>
<line x1="15.6" y1="0" x2="15.6" y2="12.6" stroke="#FFD800" stroke-width="0.6"/>
<line x1="35.6" y1="0" x2="35.6" y2="12.6" stroke="#FFD800" stroke-width="0.6"/>
<circle cx="41.6" cy="3.6" r="1.8" fill="none" stroke="#FFD800" stroke-width="0.8"/><circle cx="41.6" cy="8.6" r="1.8" fill="none" stroke="#FFD800" stroke-width="0.8"/>
<line x1="47.2" y1="0" x2="47.2" y2="12.6" stroke="#FFD800" stroke-width="0.6"/>
</g>
<g transform="translate(92.2 286.6)">
<g transform="translate(-6.7 -11)">
<path d="M-4.9 -3.6Q0 -4.4 4.9 -3.6L4.7 5L-4.7 5Z" fill="#FFD400" stroke="#7a6a18" stroke-width="0.7" />
<path d="M-5.4 -3Q-5.6 -4.6 -5 -5.2Q0 -6 5 -5.2Q5.6 -4.6 5.4 -3Q0 -4 -5.4 -3Z" fill="#4e4012" stroke="none" stroke-width="1" />
</g>
<g transform="translate(-6.7 10.6) rotate(180)">
<path d="M-4.9 -3.6Q0 -4.4 4.9 -3.6L4.7 5L-4.7 5Z" fill="#FFD400" stroke="#7a6a18" stroke-width="0.7" />
<path d="M-5.4 -3Q-5.6 -4.6 -5 -5.2Q0 -6 5 -5.2Q5.6 -4.6 5.4 -3Q0 -4 -5.4 -3Z" fill="#4e4012" stroke="none" stroke-width="1" />
</g>
<g transform="translate(6.5 -11)">
<path d="M-4.9 -3.6Q0 -4.4 4.9 -3.6L4.7 5L-4.7 5Z" fill="#FFD400" stroke="#7a6a18" stroke-width="0.7" />
<path d="M-5.4 -3Q-5.6 -4.6 -5 -5.2Q0 -6 5 -5.2Q5.6 -4.6 5.4 -3Q0 -4 -5.4 -3Z" fill="#4e4012" stroke="none" stroke-width="1" />
</g>
<g transform="translate(6.5 10.6) rotate(180)">
<path d="M-4.9 -3.6Q0 -4.4 4.9 -3.6L4.7 5L-4.7 5Z" fill="#FFD400" stroke="#7a6a18" stroke-width="0.7" />
<path d="M-5.4 -3Q-5.6 -4.6 -5 -5.2Q0 -6 5 -5.2Q5.6 -4.6 5.4 -3Q0 -4 -5.4 -3Z" fill="#4e4012" stroke="none" stroke-width="1" />
</g>
<rect x="-13" y="-6.2" width="26" height="13" rx="1" fill="none" stroke="#35b4d2" stroke-width="0.8"/>
</g>
<g transform="translate(89.3 331)">
<rect x="-8.15" y="-14.9" width="16.3" height="29.8" fill="#AE70C3" stroke="#D9B0E8" stroke-width="0.7"/>
<path d="M-4.15 -13.5V13.5M-6.75 -13.4H7.75M-6.75 12.9H7.75M-7.75 0H7.75" fill="none" stroke="#FBF3FF" stroke-width="0.85"/>
<path d="M-5.95 -13.5V13.5" fill="none" stroke="#E6CCF0" stroke-width="0.6"/>
</g>
<g transform="translate(110.5 331.4)">
<rect x="-6.45" y="-12.65" width="12.9" height="25.3" fill="#AE70C3"/>
</g>
<g transform="translate(131.3 331) scale(-1 1)">
<rect x="-8.15" y="-14.9" width="16.3" height="29.8" fill="#AE70C3" stroke="#D9B0E8" stroke-width="0.7"/>
<path d="M-4.15 -13.5V13.5M-6.75 -13.4H7.75M-6.75 12.9H7.75M-7.75 0H7.75" fill="none" stroke="#FBF3FF" stroke-width="0.85"/>
<path d="M-5.95 -13.5V13.5" fill="none" stroke="#E6CCF0" stroke-width="0.6"/>
</g>
<line x1="207" y1="283.6" x2="207" y2="320" stroke="#1d5868" stroke-width="0.6" />
<line x1="216.4" y1="283.6" x2="216.4" y2="320" stroke="#1d5868" stroke-width="0.6" />
<line x1="199.4" y1="297.6" x2="237.8" y2="297.6" stroke="#1d5868" stroke-width="0.6" />
<line x1="199.4" y1="309.7" x2="237.8" y2="309.7" stroke="#1d5868" stroke-width="0.6" />
<g transform="translate(225.6 292.4) rotate(-90)">
<path d="M-3.6 3.4V-2.4Q-3.6 -7.4 0 -7.4Q3.6 -7.4 3.6 -2.4V3.4Z" fill="#D2D0F6" stroke="#2C1E9C" stroke-width="1.2"/>
<ellipse cx="0" cy="-2.6" rx="1.5" ry="2.3" fill="#2C1E9C"/>
<rect x="-4.6" y="3.2" width="9.2" height="2.2" fill="#D2D0F6"/>
<rect x="-4.4" y="5.2" width="8.8" height="2.4" rx="0.8" fill="#2C1E9C"/>
</g>
<g transform="translate(228.3 310.6)">
<rect x="-9.7" y="-9.6" width="19.4" height="19.2" fill="#2C1E9C" stroke="#D6DCFA" stroke-width="0.7"/>
<path d="M-9.7 -9.6L9.7 9.6M9.7 -9.6L-9.7 9.6" stroke="#EEF0FF" stroke-width="0.7" fill="none"/>
<g transform="rotate(270)"><path d="M0 0V7.2M-1.6 7.2H1.6" stroke="#EEF0FF" stroke-width="0.8" fill="none"/><circle cx="0" cy="7.8" r="1.1" fill="#C8CCF4"/></g>
</g>
<g transform="translate(209 315.3)">
<ellipse cx="0" cy="0" rx="6.1" ry="4.6" fill="#2C1E9C" stroke="#C8CCF4" stroke-width="0.5"/>
<path d="M-3.4 0.6Q-2.6 3.2 -1.2 1.8Q0 3.6 1.2 1.8Q2.6 3.2 3.4 0.6" fill="none" stroke="#F0F0FF" stroke-width="0.8"/>
<circle cx="0" cy="0.4" r="0.7" fill="#F0F0FF"/>
</g>
<g transform="translate(232.5 330.9)">
<rect x="-4.6" y="-6.6" width="9.2" height="13.2" fill="#E86460"/>
<line x1="0" y1="-6.6" x2="0" y2="7" stroke="#2a2020" stroke-width="1"/>
<line x1="-4.6" y1="-1.3" x2="4.6" y2="-1.3" stroke="#3a3434" stroke-width="1.2"/>
<line x1="-4.6" y1="1.4" x2="4.6" y2="1.4" stroke="#3a3434" stroke-width="1.2"/>
<line x1="-4.6" y1="4" x2="4.6" y2="4" stroke="#3a3434" stroke-width="1.2"/>
</g>
<g transform="translate(216 347.7)">
<rect x="-21.6" y="-9.5" width="43.2" height="19" fill="#FEB194" stroke="#8FA383" stroke-width="0.6"/>
</g>
<g transform="translate(216 376.5)">
<rect x="-21.6" y="-9.8" width="43.2" height="19.6" fill="#FEB194" stroke="#8FA383" stroke-width="0.6"/>
</g>
<g transform="translate(232.8 361.8)">
<rect x="-4.6" y="-4.6" width="9.2" height="9.2" fill="#D9626A" stroke="#8FA383" stroke-width="0.4"/>
<circle cx="0" cy="0" r="1.5" fill="none" stroke="#3a1418" stroke-width="0.7"/>
</g>
<polygon points="226,341.5 232.6,340 237.2,356.5" fill="#FDDDD2" />
<polygon points="237.2,367.2 232.6,384.5 226,383" fill="#FDDDD2" />
<g transform="translate(232.5 393)">
<rect x="-4.6" y="-6.6" width="9.2" height="13.2" fill="#E86460"/>
<line x1="0" y1="-6.6" x2="0" y2="7" stroke="#2a2020" stroke-width="1"/>
<line x1="-4.6" y1="-1.3" x2="4.6" y2="-1.3" stroke="#3a3434" stroke-width="1.2"/>
<line x1="-4.6" y1="1.4" x2="4.6" y2="1.4" stroke="#3a3434" stroke-width="1.2"/>
<line x1="-4.6" y1="4" x2="4.6" y2="4" stroke="#3a3434" stroke-width="1.2"/>
</g>
</g>
<g transform="translate(324 0)">
<g transform="translate(85 127.2)">
<rect x="-4.8" y="-4.8" width="9.6" height="9.6" fill="#D9626A" stroke="#8FA383" stroke-width="0.4"/>
<circle cx="0" cy="0" r="1.5" fill="none" stroke="#3a1418" stroke-width="0.7"/>
</g>
<g transform="translate(85 175.6)">
<rect x="-4.8" y="-4.8" width="9.6" height="9.6" fill="#D9626A" stroke="#8FA383" stroke-width="0.4"/>
<circle cx="0" cy="0" r="1.5" fill="none" stroke="#3a1418" stroke-width="0.7"/>
</g>
<g transform="translate(101.2 151.5)">
<rect x="-21.2" y="-19.1" width="42.4" height="38.2" fill="#FEB194" stroke="#8FA383" stroke-width="0.6"/>
</g>
<polygon points="80.5,148.2 85.8,133.6 91.2,138.4" fill="#FDDDD2" />
<polygon points="80.5,152.8 85.8,169.6 91.2,164.4" fill="#FDDDD2" />
<g transform="translate(99 193.6)">
<rect x="-19" y="-5.3" width="38" height="10.6" fill="#E0726C"/>
<line x1="-17.6" y1="0" x2="17.4" y2="0" stroke="#2a2020" stroke-width="0.9"/>
<line x1="-13.5" y1="-3.8" x2="-13.5" y2="4.1" stroke="#3a3030" stroke-width="1.4"/>
<line x1="-11.2" y1="-3.8" x2="-11.2" y2="4.1" stroke="#3a3030" stroke-width="1.4"/>
<line x1="-6" y1="-3.8" x2="-6" y2="4.1" stroke="#3a3030" stroke-width="1.4"/>
<line x1="-3.6" y1="-3.8" x2="-3.6" y2="4.1" stroke="#3a3030" stroke-width="1.4"/>
<line x1="-1.3" y1="-3.8" x2="-1.3" y2="4.1" stroke="#3a3030" stroke-width="1.4"/>
<line x1="8.4" y1="-3.8" x2="8.4" y2="4.1" stroke="#3a3030" stroke-width="1.4"/>
<line x1="10.9" y1="-3.8" x2="10.9" y2="4.1" stroke="#3a3030" stroke-width="1.4"/>
<line x1="13.4" y1="-3.8" x2="13.4" y2="4.1" stroke="#3a3030" stroke-width="1.4"/>
</g>
<line x1="92.2" y1="200.6" x2="92.2" y2="236.6" stroke="#1d5868" stroke-width="0.6" />
<line x1="105" y1="200.6" x2="105" y2="236.6" stroke="#1d5868" stroke-width="0.6" />
<line x1="80" y1="208.4" x2="117" y2="208.4" stroke="#1d5868" stroke-width="0.6" />
<line x1="80" y1="218" x2="117" y2="218" stroke="#1d5868" stroke-width="0.6" />
<line x1="80" y1="227.8" x2="117" y2="227.8" stroke="#1d5868" stroke-width="0.6" />
<g transform="translate(84.4 208.8)">
<ellipse cx="0" cy="0" rx="4.7" ry="6.5" fill="#2C1E9C" stroke="#C8CCF4" stroke-width="0.5"/>
<path d="M-1.2 -3.4Q-3.4 -2.6 -2.4 -1.2Q-3.8 0 -2.4 1.2Q-3.4 2.6 -1.2 3.4" fill="none" stroke="#F0F0FF" stroke-width="0.8"/>
<circle cx="-0.6" cy="0" r="0.8" fill="#F0F0FF"/>
</g>
<g transform="translate(89.6 233.5)">
<rect x="-9.8" y="-9.7" width="19.6" height="19.4" fill="#2C1E9C" stroke="#D6DCFA" stroke-width="0.7"/>
<path d="M-9.8 -9.7L9.8 9.7M9.8 -9.7L-9.8 9.7" stroke="#EEF0FF" stroke-width="0.7" fill="none"/>
<g transform="rotate(0)"><path d="M0 0V7.3M-1.6 7.3H1.6" stroke="#EEF0FF" stroke-width="0.8" fill="none"/><circle cx="0" cy="7.9" r="1.1" fill="#C8CCF4"/></g>
</g>
<g transform="translate(107.9 228.9)">
<path d="M-3.6 3.4V-2.4Q-3.6 -7.4 0 -7.4Q3.6 -7.4 3.6 -2.4V3.4Z" fill="#D2D0F6" stroke="#2C1E9C" stroke-width="1.2"/>
<ellipse cx="0" cy="-2.6" rx="1.5" ry="2.3" fill="#2C1E9C"/>
<rect x="-4.6" y="3.2" width="9.2" height="2.2" fill="#D2D0F6"/>
<rect x="-4.4" y="5.2" width="8.8" height="2.4" rx="0.8" fill="#2C1E9C"/>
</g>
</g>
<g transform="translate(501.2 107.9) rotate(5)">
<g transform="translate(-10.6 -6.6) rotate(270)">
<path d="M-4.9 -3.6Q0 -4.4 4.9 -3.6L4.7 5L-4.7 5Z" fill="#FFD400" stroke="#7a6a18" stroke-width="0.7" />
<path d="M-5.4 -3Q-5.6 -4.6 -5 -5.2Q0 -6 5 -5.2Q5.6 -4.6 5.4 -3Q0 -4 -5.4 -3Z" fill="#4e4012" stroke="none" stroke-width="1" />
</g>
<g transform="translate(-10.6 6.5) rotate(270)">
<path d="M-4.9 -3.6Q0 -4.4 4.9 -3.6L4.7 5L-4.7 5Z" fill="#FFD400" stroke="#7a6a18" stroke-width="0.7" />
<path d="M-5.4 -3Q-5.6 -4.6 -5 -5.2Q0 -6 5 -5.2Q5.6 -4.6 5.4 -3Q0 -4 -5.4 -3Z" fill="#4e4012" stroke="none" stroke-width="1" />
</g>
<g transform="translate(10.6 -6.6) rotate(90)">
<path d="M-4.9 -3.6Q0 -4.4 4.9 -3.6L4.7 5L-4.7 5Z" fill="#FFD400" stroke="#7a6a18" stroke-width="0.7" />
<path d="M-5.4 -3Q-5.6 -4.6 -5 -5.2Q0 -6 5 -5.2Q5.6 -4.6 5.4 -3Q0 -4 -5.4 -3Z" fill="#4e4012" stroke="none" stroke-width="1" />
</g>
<g transform="translate(10.6 6.5) rotate(90)">
<path d="M-4.9 -3.6Q0 -4.4 4.9 -3.6L4.7 5L-4.7 5Z" fill="#FFD400" stroke="#7a6a18" stroke-width="0.7" />
<path d="M-5.4 -3Q-5.6 -4.6 -5 -5.2Q0 -6 5 -5.2Q5.6 -4.6 5.4 -3Q0 -4 -5.4 -3Z" fill="#4e4012" stroke="none" stroke-width="1" />
</g>
<rect x="-6.6" y="-14.6" width="13.2" height="27.6" rx="1" fill="none" stroke="#35b4d2" stroke-width="0.8"/>
</g>
<g transform="translate(541.1 115.6) rotate(5)">
<rect x="-6.3" y="15.5" width="12.6" height="5.8" fill="#EDF08E"/>
<rect x="-6.3" y="-16" width="12.6" height="32" fill="#F0003E"/>
<circle cx="-2.7" cy="-12.7" r="2" fill="none" stroke="#FFD800" stroke-width="0.9"/><circle cx="2.7" cy="-12.7" r="2" fill="none" stroke="#FFD800" stroke-width="0.9"/>
<path d="M-4 -14L-1.4 -11.4M-1.4 -14L-4 -11.4M1.4 -14L4 -11.4M4 -14L1.4 -11.4" fill="none" stroke="#FFD800" stroke-width="0.5"/>
<line x1="-6.3" y1="-9.2" x2="6.3" y2="-9.2" stroke="#FFD800" stroke-width="0.7"/>
<path d="M3.6 -7.4H-0.6Q-4.8 -7.4 -4.8 -2.8Q-4.8 1.8 -0.6 1.8H3.6" fill="none" stroke="#FFD800" stroke-width="1.2"/>
<line x1="0.2" y1="-2.8" x2="3" y2="-2.8" stroke="#FFD800" stroke-width="0.9"/>
<circle cx="3.4" cy="-5.4" r="0.85" fill="#FFE860"/>
<circle cx="3.4" cy="-2.8" r="0.85" fill="#FFE860"/>
<circle cx="3.4" cy="-0.2" r="0.85" fill="#FFE860"/>
<rect x="-7" y="3.6" width="13.7" height="12.4" fill="#F0003E" stroke="#FF9800" stroke-width="0.9"/>
<circle cx="1.8" cy="6.8" r="1" fill="#FFE040"/>
<path d="M-6.1 16V20.8M5.9 16V20.8" stroke="#FFD800" stroke-width="0.8" fill="none"/>
</g>
<g transform="translate(501.8 153) rotate(5)">
<rect x="-8.6" y="-8.6" width="17.2" height="17.2" fill="#AE70C3" stroke="#FBF3FF" stroke-width="0.8"/>
<path d="M-6.6 8.6V-6.4H6.6V8.6M-6.6 -4.2H6.6" fill="none" stroke="#FBF3FF" stroke-width="0.8"/>
</g>
<g transform="translate(520 156.6) rotate(5)">
<rect x="-4.7" y="-4.7" width="9.4" height="9.4" fill="#AE70C3"/>
</g>
<g transform="translate(498.9 185.6) rotate(5)">
<rect x="-6.2" y="-12.8" width="12.4" height="25.6" fill="#AE70C3"/>
</g>
<g transform="translate(520.1 187.8) rotate(5)">
<rect x="-8.4" y="-21.8" width="16.8" height="43.6" fill="#AE70C3" stroke="#D9B0E8" stroke-width="0.7"/>
<path d="M4.6 -19.8V19.8M-8 -19.8H7M-8 19.8H7M-8 -7.27H4.6M-8 7.27H4.6" fill="none" stroke="#FBF3FF" stroke-width="0.85"/>
</g>
<g transform="translate(630.2 118.9) rotate(5)">
<g transform="translate(-10.6 -6.6) rotate(270)">
<path d="M-4.9 -3.6Q0 -4.4 4.9 -3.6L4.7 5L-4.7 5Z" fill="#FFD400" stroke="#7a6a18" stroke-width="0.7" />
<path d="M-5.4 -3Q-5.6 -4.6 -5 -5.2Q0 -6 5 -5.2Q5.6 -4.6 5.4 -3Q0 -4 -5.4 -3Z" fill="#4e4012" stroke="none" stroke-width="1" />
</g>
<g transform="translate(-10.6 6.5) rotate(270)">
<path d="M-4.9 -3.6Q0 -4.4 4.9 -3.6L4.7 5L-4.7 5Z" fill="#FFD400" stroke="#7a6a18" stroke-width="0.7" />
<path d="M-5.4 -3Q-5.6 -4.6 -5 -5.2Q0 -6 5 -5.2Q5.6 -4.6 5.4 -3Q0 -4 -5.4 -3Z" fill="#4e4012" stroke="none" stroke-width="1" />
</g>
<g transform="translate(10.6 -6.6) rotate(90)">
<path d="M-4.9 -3.6Q0 -4.4 4.9 -3.6L4.7 5L-4.7 5Z" fill="#FFD400" stroke="#7a6a18" stroke-width="0.7" />
<path d="M-5.4 -3Q-5.6 -4.6 -5 -5.2Q0 -6 5 -5.2Q5.6 -4.6 5.4 -3Q0 -4 -5.4 -3Z" fill="#4e4012" stroke="none" stroke-width="1" />
</g>
<g transform="translate(10.6 6.5) rotate(90)">
<path d="M-4.9 -3.6Q0 -4.4 4.9 -3.6L4.7 5L-4.7 5Z" fill="#FFD400" stroke="#7a6a18" stroke-width="0.7" />
<path d="M-5.4 -3Q-5.6 -4.6 -5 -5.2Q0 -6 5 -5.2Q5.6 -4.6 5.4 -3Q0 -4 -5.4 -3Z" fill="#4e4012" stroke="none" stroke-width="1" />
</g>
<rect x="-6.6" y="-14.6" width="13.2" height="27.6" rx="1" fill="none" stroke="#35b4d2" stroke-width="0.8"/>
</g>
<g transform="translate(589.5 119.4) rotate(5) scale(-1 1)">
<g transform="translate(0 0)">
<rect x="-6.3" y="15.5" width="12.6" height="5.8" fill="#EDF08E"/>
<rect x="-6.3" y="-16" width="12.6" height="32" fill="#F0003E"/>
<circle cx="-2.7" cy="-12.7" r="2" fill="none" stroke="#FFD800" stroke-width="0.9"/><circle cx="2.7" cy="-12.7" r="2" fill="none" stroke="#FFD800" stroke-width="0.9"/>
<path d="M-4 -14L-1.4 -11.4M-1.4 -14L-4 -11.4M1.4 -14L4 -11.4M4 -14L1.4 -11.4" fill="none" stroke="#FFD800" stroke-width="0.5"/>
<line x1="-6.3" y1="-9.2" x2="6.3" y2="-9.2" stroke="#FFD800" stroke-width="0.7"/>
<path d="M3.6 -7.4H-0.6Q-4.8 -7.4 -4.8 -2.8Q-4.8 1.8 -0.6 1.8H3.6" fill="none" stroke="#FFD800" stroke-width="1.2"/>
<line x1="0.2" y1="-2.8" x2="3" y2="-2.8" stroke="#FFD800" stroke-width="0.9"/>
<circle cx="3.4" cy="-5.4" r="0.85" fill="#FFE860"/>
<circle cx="3.4" cy="-2.8" r="0.85" fill="#FFE860"/>
<circle cx="3.4" cy="-0.2" r="0.85" fill="#FFE860"/>
<rect x="-7" y="3.6" width="13.7" height="12.4" fill="#F0003E" stroke="#FF9800" stroke-width="0.9"/>
<circle cx="1.8" cy="6.8" r="1" fill="#FFE040"/>
<path d="M-6.1 16V20.8M5.9 16V20.8" stroke="#FFD800" stroke-width="0.8" fill="none"/>
</g>
</g>
<g transform="translate(621.5 163.4) rotate(5)">
<rect x="-8.6" y="-8.6" width="17.2" height="17.2" fill="#AE70C3" stroke="#FBF3FF" stroke-width="0.8"/>
<path d="M-6.6 8.6V-6.4H6.6V8.6M-6.6 -4.2H6.6" fill="none" stroke="#FBF3FF" stroke-width="0.8"/>
</g>
<g transform="translate(602.9 163.7) rotate(5)">
<rect x="-4.7" y="-4.7" width="9.4" height="9.4" fill="#AE70C3"/>
</g>
<g transform="translate(618.6 196.2) rotate(5)">
<rect x="-6.2" y="-12.8" width="12.4" height="25.6" fill="#AE70C3"/>
</g>
<g transform="translate(598 194.5) rotate(5) scale(-1 1)">
<rect x="-8.3" y="-21.7" width="16.6" height="43.4" fill="#AE70C3" stroke="#D9B0E8" stroke-width="0.7"/>
<path d="M4.5 -19.7V19.7M-7.9 -19.7H6.9M-7.9 19.7H6.9M-7.9 -7.23H4.5M-7.9 7.23H4.5" fill="none" stroke="#FBF3FF" stroke-width="0.85"/>
</g>
<g transform="translate(697.6 174.8) rotate(10.1)">
<rect x="-21" y="-18.2" width="42" height="36.4" fill="#FEB194" stroke="#8FA383" stroke-width="0.6"/>
</g>
<g transform="translate(717.4 154.6) rotate(10.1)">
<rect x="-4.7" y="-4.7" width="9.4" height="9.4" fill="#D9626A" stroke="#8FA383" stroke-width="0.4"/>
<circle cx="0" cy="0" r="1.5" fill="none" stroke="#3a1418" stroke-width="0.7"/>
</g>
<g transform="translate(709 201.4) rotate(10.1)">
<rect x="-4.7" y="-4.7" width="9.4" height="9.4" fill="#D9626A" stroke="#8FA383" stroke-width="0.4"/>
<circle cx="0" cy="0" r="1.5" fill="none" stroke="#3a1418" stroke-width="0.7"/>
</g>
<g transform="translate(697.6 174.8) rotate(10.1)">
<polygon points="20.5,-3.2 15.2,-17.6 9.8,-12.9" fill="#FDDDD2" />
<polygon points="20.5,1.6 15.2,17.8 9.8,12.8" fill="#FDDDD2" />
</g>
<g transform="translate(692.5 217) rotate(10.1) scale(-1 1)">
<g transform="translate(0 0)">
<rect x="-19.2" y="-6.4" width="38.4" height="12.8" fill="#E0726C"/>
<line x1="-17.8" y1="0" x2="17.6" y2="0" stroke="#2a2020" stroke-width="0.9"/>
<line x1="-13.64" y1="-4.9" x2="-13.64" y2="5.2" stroke="#3a3030" stroke-width="1.4"/>
<line x1="-11.32" y1="-4.9" x2="-11.32" y2="5.2" stroke="#3a3030" stroke-width="1.4"/>
<line x1="-6.06" y1="-4.9" x2="-6.06" y2="5.2" stroke="#3a3030" stroke-width="1.4"/>
<line x1="-3.64" y1="-4.9" x2="-3.64" y2="5.2" stroke="#3a3030" stroke-width="1.4"/>
<line x1="-1.31" y1="-4.9" x2="-1.31" y2="5.2" stroke="#3a3030" stroke-width="1.4"/>
<line x1="8.49" y1="-4.9" x2="8.49" y2="5.2" stroke="#3a3030" stroke-width="1.4"/>
<line x1="11.01" y1="-4.9" x2="11.01" y2="5.2" stroke="#3a3030" stroke-width="1.4"/>
<line x1="13.54" y1="-4.9" x2="13.54" y2="5.2" stroke="#3a3030" stroke-width="1.4"/>
</g>
</g>
<g transform="translate(688.5 243) rotate(10.1)">
<line x1="-7" y1="-22" x2="-7" y2="22" stroke="#1d5868" stroke-width="0.6"/>
<line x1="6" y1="-22" x2="6" y2="22" stroke="#1d5868" stroke-width="0.6"/>
<line x1="-19.5" y1="-13" x2="19.5" y2="-13" stroke="#1d5868" stroke-width="0.6"/>
<line x1="-19.5" y1="-4" x2="19.5" y2="-4" stroke="#1d5868" stroke-width="0.6"/>
<line x1="-19.5" y1="5" x2="19.5" y2="5" stroke="#1d5868" stroke-width="0.6"/>
</g>
<g transform="translate(704.2 234.8) rotate(190.1)">
<ellipse cx="0" cy="0" rx="4.7" ry="6.5" fill="#2C1E9C" stroke="#C8CCF4" stroke-width="0.5"/>
<path d="M-1.2 -3.4Q-3.4 -2.6 -2.4 -1.2Q-3.8 0 -2.4 1.2Q-3.4 2.6 -1.2 3.4" fill="none" stroke="#F0F0FF" stroke-width="0.8"/>
<circle cx="-0.6" cy="0" r="0.8" fill="#F0F0FF"/>
</g>
<g transform="translate(695 257.8) rotate(10.1)">
<rect x="-8.6" y="-9" width="17.2" height="18" fill="#2C1E9C" stroke="#D6DCFA" stroke-width="0.7"/>
<path d="M-8.6 -9L8.6 9M8.6 -9L-8.6 9" stroke="#EEF0FF" stroke-width="0.7" fill="none"/>
<g transform="rotate(0)"><path d="M0 0V6.6M-1.6 6.6H1.6" stroke="#EEF0FF" stroke-width="0.8" fill="none"/><circle cx="0" cy="7.2" r="1.1" fill="#C8CCF4"/></g>
</g>
<g transform="translate(677.2 250.4) rotate(10.1)">
<path d="M-3.6 3.4V-2.4Q-3.6 -7.4 0 -7.4Q3.6 -7.4 3.6 -2.4V3.4Z" fill="#D2D0F6" stroke="#2C1E9C" stroke-width="1.2"/>
<ellipse cx="0" cy="-2.6" rx="1.5" ry="2.3" fill="#2C1E9C"/>
<rect x="-4.6" y="3.2" width="9.2" height="2.2" fill="#D2D0F6"/>
<rect x="-4.4" y="5.2" width="8.8" height="2.4" rx="0.8" fill="#2C1E9C"/>
</g>
<polygon points="666.6,258 683.4,261 682.9,264.2 666.1,261.2" fill="#FCF9DC" />
<g transform="translate(404.2 247.2)">
<rect x="0" y="0" width="49.1" height="11.6" fill="#F0003E"/>
<rect x="0" y="0" width="12.6" height="12.8" fill="#F0003E"/>
<rect x="0.4" y="0.4" width="12" height="12.2" fill="none" stroke="#FFD800" stroke-width="0.8"/>
<circle cx="9.4" cy="3.4" r="0.9" fill="#FFD800"/>
<path d="M18.6 1.6V7Q18.6 11 25.6 11Q32.6 11 32.6 7V1.6Z" fill="none" stroke="#FFD800" stroke-width="0.8"/>
<line x1="25.6" y1="1.6" x2="25.6" y2="5" stroke="#FFD800" stroke-width="0.8"/>
<line x1="15.6" y1="0" x2="15.6" y2="11.6" stroke="#FFD800" stroke-width="0.6"/>
<line x1="35.6" y1="0" x2="35.6" y2="11.6" stroke="#FFD800" stroke-width="0.6"/>
<circle cx="41.6" cy="3.6" r="1.8" fill="none" stroke="#FFD800" stroke-width="0.8"/><circle cx="41.6" cy="8.6" r="1.8" fill="none" stroke="#FFD800" stroke-width="0.8"/>
<line x1="47.2" y1="0" x2="47.2" y2="11.6" stroke="#FFD800" stroke-width="0.6"/>
</g>
<g transform="translate(479.9 260.7) rotate(5)">
<g transform="translate(-10.6 -6.6) rotate(270)">
<path d="M-4.9 -3.6Q0 -4.4 4.9 -3.6L4.7 5L-4.7 5Z" fill="#FFD400" stroke="#7a6a18" stroke-width="0.7" />
<path d="M-5.4 -3Q-5.6 -4.6 -5 -5.2Q0 -6 5 -5.2Q5.6 -4.6 5.4 -3Q0 -4 -5.4 -3Z" fill="#4e4012" stroke="none" stroke-width="1" />
</g>
<g transform="translate(-10.6 6.5) rotate(270)">
<path d="M-4.9 -3.6Q0 -4.4 4.9 -3.6L4.7 5L-4.7 5Z" fill="#FFD400" stroke="#7a6a18" stroke-width="0.7" />
<path d="M-5.4 -3Q-5.6 -4.6 -5 -5.2Q0 -6 5 -5.2Q5.6 -4.6 5.4 -3Q0 -4 -5.4 -3Z" fill="#4e4012" stroke="none" stroke-width="1" />
</g>
<g transform="translate(10.6 -6.6) rotate(90)">
<path d="M-4.9 -3.6Q0 -4.4 4.9 -3.6L4.7 5L-4.7 5Z" fill="#FFD400" stroke="#7a6a18" stroke-width="0.7" />
<path d="M-5.4 -3Q-5.6 -4.6 -5 -5.2Q0 -6 5 -5.2Q5.6 -4.6 5.4 -3Q0 -4 -5.4 -3Z" fill="#4e4012" stroke="none" stroke-width="1" />
</g>
<g transform="translate(10.6 6.5) rotate(90)">
<path d="M-4.9 -3.6Q0 -4.4 4.9 -3.6L4.7 5L-4.7 5Z" fill="#FFD400" stroke="#7a6a18" stroke-width="0.7" />
<path d="M-5.4 -3Q-5.6 -4.6 -5 -5.2Q0 -6 5 -5.2Q5.6 -4.6 5.4 -3Q0 -4 -5.4 -3Z" fill="#4e4012" stroke="none" stroke-width="1" />
</g>
<rect x="-6.6" y="-14.6" width="13.2" height="27.6" rx="1" fill="none" stroke="#35b4d2" stroke-width="0.8"/>
</g>
<g transform="translate(416.2 292.4)">
<rect x="-4.8" y="-4.7" width="9.6" height="9.4" fill="#AE70C3"/>
</g>
<g transform="translate(434.6 291.6)">
<rect x="-8.7" y="-8.7" width="17.4" height="17.4" fill="#AE70C3" stroke="#FBF3FF" stroke-width="0.8"/>
<path d="M-6.7 8.7V-6.5H6.7V8.7M-6.7 -4.3H6.7" fill="none" stroke="#FBF3FF" stroke-width="0.8"/>
</g>
<g transform="translate(413.7 322.9) scale(-1 1)">
<rect x="-8.45" y="-22.1" width="16.9" height="44.2" fill="#AE70C3" stroke="#D9B0E8" stroke-width="0.7"/>
<path d="M4.65 -20.1V20.1M-8.05 -20.1H7.05M-8.05 20.1H7.05M-8.05 -7.37H4.65M-8.05 7.37H4.65" fill="none" stroke="#FBF3FF" stroke-width="0.85"/>
</g>
<g transform="translate(434.7 323)">
<rect x="-6.5" y="-12.8" width="13" height="25.6" fill="#AE70C3"/>
</g>
<g transform="translate(651.2 264.1) rotate(8)">
<g transform="translate(50.6 0) scale(-1 1)">
<rect x="0" y="0" width="50.6" height="12" fill="#F0003E"/>
<rect x="0" y="0" width="12.6" height="14" fill="#F0003E"/>
<rect x="0.4" y="0.4" width="12" height="13.4" fill="none" stroke="#FFD800" stroke-width="0.8"/>
<circle cx="9.4" cy="3.4" r="0.9" fill="#FFD800"/>
<path d="M18.6 1.6V7Q18.6 11 25.6 11Q32.6 11 32.6 7V1.6Z" fill="none" stroke="#FFD800" stroke-width="0.8"/>
<line x1="25.6" y1="1.6" x2="25.6" y2="5" stroke="#FFD800" stroke-width="0.8"/>
<line x1="15.6" y1="0" x2="15.6" y2="12" stroke="#FFD800" stroke-width="0.6"/>
<line x1="35.6" y1="0" x2="35.6" y2="12" stroke="#FFD800" stroke-width="0.6"/>
<circle cx="41.6" cy="3.6" r="1.8" fill="none" stroke="#FFD800" stroke-width="0.8"/><circle cx="41.6" cy="8.6" r="1.8" fill="none" stroke="#FFD800" stroke-width="0.8"/>
<line x1="47.2" y1="0" x2="47.2" y2="12" stroke="#FFD800" stroke-width="0.6"/>
</g>
</g>
<g transform="translate(624.2 273.8) rotate(5)">
<g transform="translate(-10.6 -6.6) rotate(270)">
<path d="M-4.9 -3.6Q0 -4.4 4.9 -3.6L4.7 5L-4.7 5Z" fill="#FFD400" stroke="#7a6a18" stroke-width="0.7" />
<path d="M-5.4 -3Q-5.6 -4.6 -5 -5.2Q0 -6 5 -5.2Q5.6 -4.6 5.4 -3Q0 -4 -5.4 -3Z" fill="#4e4012" stroke="none" stroke-width="1" />
</g>
<g transform="translate(-10.6 6.5) rotate(270)">
<path d="M-4.9 -3.6Q0 -4.4 4.9 -3.6L4.7 5L-4.7 5Z" fill="#FFD400" stroke="#7a6a18" stroke-width="0.7" />
<path d="M-5.4 -3Q-5.6 -4.6 -5 -5.2Q0 -6 5 -5.2Q5.6 -4.6 5.4 -3Q0 -4 -5.4 -3Z" fill="#4e4012" stroke="none" stroke-width="1" />
</g>
<g transform="translate(10.6 -6.6) rotate(90)">
<path d="M-4.9 -3.6Q0 -4.4 4.9 -3.6L4.7 5L-4.7 5Z" fill="#FFD400" stroke="#7a6a18" stroke-width="0.7" />
<path d="M-5.4 -3Q-5.6 -4.6 -5 -5.2Q0 -6 5 -5.2Q5.6 -4.6 5.4 -3Q0 -4 -5.4 -3Z" fill="#4e4012" stroke="none" stroke-width="1" />
</g>
<g transform="translate(10.6 6.5) rotate(90)">
<path d="M-4.9 -3.6Q0 -4.4 4.9 -3.6L4.7 5L-4.7 5Z" fill="#FFD400" stroke="#7a6a18" stroke-width="0.7" />
<path d="M-5.4 -3Q-5.6 -4.6 -5 -5.2Q0 -6 5 -5.2Q5.6 -4.6 5.4 -3Q0 -4 -5.4 -3Z" fill="#4e4012" stroke="none" stroke-width="1" />
</g>
<rect x="-6.6" y="-14.6" width="13.2" height="27.6" rx="1" fill="none" stroke="#35b4d2" stroke-width="0.8"/>
</g>
<g transform="translate(664 311) rotate(10.1)">
<rect x="-8.6" y="-8.6" width="17.2" height="17.2" fill="#AE70C3" stroke="#FBF3FF" stroke-width="0.8"/>
<path d="M-6.6 8.6V-6.4H6.6V8.6M-6.6 -4.2H6.6" fill="none" stroke="#FBF3FF" stroke-width="0.8"/>
</g>
<g transform="translate(681.5 315.6) rotate(10.1)">
<rect x="-4.7" y="-4.7" width="9.4" height="9.4" fill="#AE70C3"/>
</g>
<g transform="translate(657.8 342.5) rotate(10.1)">
<rect x="-6.2" y="-12.6" width="12.4" height="25.2" fill="#AE70C3"/>
</g>
<g transform="translate(678.3 346.7) rotate(10.1)">
<rect x="-8.5" y="-21.3" width="17" height="42.6" fill="#AE70C3" stroke="#D9B0E8" stroke-width="0.7"/>
<path d="M4.7 -19.3V19.3M-8.1 -19.3H7.1M-8.1 19.3H7.1M-8.1 -7.1H4.7M-8.1 7.1H4.7" fill="none" stroke="#FBF3FF" stroke-width="0.85"/>
</g>
<g transform="translate(548.3 309) rotate(5)">
<line x1="-31.5" y1="-18" x2="-31.5" y2="18.5" stroke="#1d5868" stroke-width="0.6"/>
<line x1="-22" y1="-18" x2="-22" y2="18.5" stroke="#1d5868" stroke-width="0.6"/>
<line x1="22" y1="-18" x2="22" y2="18.5" stroke="#1d5868" stroke-width="0.6"/>
<line x1="31.5" y1="-18" x2="31.5" y2="18.5" stroke="#1d5868" stroke-width="0.6"/>
<line x1="-41" y1="-5.6" x2="-2" y2="-5.6" stroke="#1d5868" stroke-width="0.6"/>
<line x1="2" y1="-5.6" x2="41" y2="-5.6" stroke="#1d5868" stroke-width="0.6"/>
<line x1="-41" y1="6.4" x2="-2" y2="6.4" stroke="#1d5868" stroke-width="0.6"/>
<line x1="2" y1="6.4" x2="41" y2="6.4" stroke="#1d5868" stroke-width="0.6"/>
</g>
<g transform="translate(535.8 299.6) rotate(-85)">
<path d="M-3.6 3.4V-2.4Q-3.6 -7.4 0 -7.4Q3.6 -7.4 3.6 -2.4V3.4Z" fill="#D2D0F6" stroke="#2C1E9C" stroke-width="1.2"/>
<ellipse cx="0" cy="-2.6" rx="1.5" ry="2.3" fill="#2C1E9C"/>
<rect x="-4.6" y="3.2" width="9.2" height="2.2" fill="#D2D0F6"/>
<rect x="-4.4" y="5.2" width="8.8" height="2.4" rx="0.8" fill="#2C1E9C"/>
</g>
<g transform="translate(563.6 301.9) rotate(95)">
<path d="M-3.6 3.4V-2.4Q-3.6 -7.4 0 -7.4Q3.6 -7.4 3.6 -2.4V3.4Z" fill="#D2D0F6" stroke="#2C1E9C" stroke-width="1.2"/>
<ellipse cx="0" cy="-2.6" rx="1.5" ry="2.3" fill="#2C1E9C"/>
<rect x="-4.6" y="3.2" width="9.2" height="2.2" fill="#D2D0F6"/>
<rect x="-4.4" y="5.2" width="8.8" height="2.4" rx="0.8" fill="#2C1E9C"/>
</g>
<g transform="translate(535.7 317.5) rotate(5)">
<rect x="-9.5" y="-9.2" width="19" height="18.4" fill="#2C1E9C" stroke="#D6DCFA" stroke-width="0.7"/>
<path d="M-9.5 -9.2L9.5 9.2M9.5 -9.2L-9.5 9.2" stroke="#EEF0FF" stroke-width="0.7" fill="none"/>
<g transform="rotate(270)"><path d="M0 0V6.8M-1.6 6.8H1.6" stroke="#EEF0FF" stroke-width="0.8" fill="none"/><circle cx="0" cy="7.4" r="1.1" fill="#C8CCF4"/></g>
</g>
<g transform="translate(559.6 319.6) rotate(5)">
<rect x="-9.5" y="-9.2" width="19" height="18.4" fill="#2C1E9C" stroke="#D6DCFA" stroke-width="0.7"/>
<path d="M-9.5 -9.2L9.5 9.2M9.5 -9.2L-9.5 9.2" stroke="#EEF0FF" stroke-width="0.7" fill="none"/>
<g transform="rotate(90)"><path d="M0 0V6.8M-1.6 6.8H1.6" stroke="#EEF0FF" stroke-width="0.8" fill="none"/><circle cx="0" cy="7.4" r="1.1" fill="#C8CCF4"/></g>
</g>
<g transform="translate(517 320.2) rotate(5)">
<ellipse cx="0" cy="0" rx="6.1" ry="4.6" fill="#2C1E9C" stroke="#C8CCF4" stroke-width="0.5"/>
<path d="M-3.4 0.6Q-2.6 3.2 -1.2 1.8Q0 3.6 1.2 1.8Q2.6 3.2 3.4 0.6" fill="none" stroke="#F0F0FF" stroke-width="0.8"/>
<circle cx="0" cy="0.4" r="0.7" fill="#F0F0FF"/>
</g>
<g transform="translate(578 325.2) rotate(5)">
<ellipse cx="0" cy="0" rx="6.1" ry="4.6" fill="#2C1E9C" stroke="#C8CCF4" stroke-width="0.5"/>
<path d="M-3.4 0.6Q-2.6 3.2 -1.2 1.8Q0 3.6 1.2 1.8Q2.6 3.2 3.4 0.6" fill="none" stroke="#F0F0FF" stroke-width="0.8"/>
<circle cx="0" cy="0.4" r="0.7" fill="#F0F0FF"/>
</g>
<g transform="translate(539.3 338.5) rotate(5)">
<rect x="-5.2" y="-6.3" width="10.4" height="12.6" fill="#E86460"/>
<line x1="0" y1="-6.3" x2="0" y2="6.7" stroke="#2a2020" stroke-width="1"/>
<line x1="-5.2" y1="-1" x2="5.2" y2="-1" stroke="#3a3434" stroke-width="1.2"/>
<line x1="-5.2" y1="1.7" x2="5.2" y2="1.7" stroke="#3a3434" stroke-width="1.2"/>
<line x1="-5.2" y1="4.3" x2="5.2" y2="4.3" stroke="#3a3434" stroke-width="1.2"/>
</g>
<g transform="translate(552.8 339.6) rotate(5)">
<rect x="-5" y="-6.3" width="10" height="12.6" fill="#E86460"/>
<line x1="0" y1="-6.3" x2="0" y2="6.7" stroke="#2a2020" stroke-width="1"/>
<line x1="-5" y1="-1" x2="5" y2="-1" stroke="#3a3434" stroke-width="1.2"/>
<line x1="-5" y1="1.7" x2="5" y2="1.7" stroke="#3a3434" stroke-width="1.2"/>
<line x1="-5" y1="4.3" x2="5" y2="4.3" stroke="#3a3434" stroke-width="1.2"/>
</g>
<g transform="translate(521.2 353.5) rotate(5)">
<rect x="-22.1" y="-9.5" width="44.2" height="19" fill="#FEB194" stroke="#8FA383" stroke-width="0.6"/>
</g>
<g transform="translate(567.8 357.4) rotate(5)">
<rect x="-21.1" y="-9.4" width="42.2" height="18.8" fill="#FEB194" stroke="#8FA383" stroke-width="0.6"/>
</g>
<g transform="translate(518 381.7) rotate(5)">
<rect x="-21.6" y="-9.4" width="43.2" height="18.8" fill="#FEB194" stroke="#8FA383" stroke-width="0.6"/>
</g>
<g transform="translate(565.3 386) rotate(5)">
<rect x="-21.2" y="-9.4" width="42.4" height="18.8" fill="#FEB194" stroke="#8FA383" stroke-width="0.6"/>
</g>
<g transform="translate(536 369.6) rotate(5)">
<rect x="-4.7" y="-4.7" width="9.4" height="9.4" fill="#D9626A" stroke="#8FA383" stroke-width="0.4"/>
<circle cx="0" cy="0" r="1.5" fill="none" stroke="#3a1418" stroke-width="0.7"/>
</g>
<g transform="translate(550 370.6) rotate(5)">
<rect x="-4.7" y="-4.7" width="9.4" height="9.4" fill="#D9626A" stroke="#8FA383" stroke-width="0.4"/>
<circle cx="0" cy="0" r="1.5" fill="none" stroke="#3a1418" stroke-width="0.7"/>
</g>
<g transform="translate(534 399.4) rotate(5)">
<rect x="-5" y="-6.2" width="10" height="12.4" fill="#E86460"/>
<line x1="0" y1="-6.2" x2="0" y2="6.6" stroke="#2a2020" stroke-width="1"/>
<line x1="-5" y1="-0.9" x2="5" y2="-0.9" stroke="#3a3434" stroke-width="1.2"/>
<line x1="-5" y1="1.8" x2="5" y2="1.8" stroke="#3a3434" stroke-width="1.2"/>
<line x1="-5" y1="4.4" x2="5" y2="4.4" stroke="#3a3434" stroke-width="1.2"/>
</g>
<g transform="translate(547.4 400.6) rotate(5)">
<rect x="-5" y="-6.2" width="10" height="12.4" fill="#E86460"/>
<line x1="0" y1="-6.2" x2="0" y2="6.6" stroke="#2a2020" stroke-width="1"/>
<line x1="-5" y1="-0.9" x2="5" y2="-0.9" stroke="#3a3434" stroke-width="1.2"/>
<line x1="-5" y1="1.8" x2="5" y2="1.8" stroke="#3a3434" stroke-width="1.2"/>
<line x1="-5" y1="4.4" x2="5" y2="4.4" stroke="#3a3434" stroke-width="1.2"/>
</g>
<g transform="translate(543 370.1) rotate(5)">
<polygon points="-13.7,-20.3 -7.1,-21.8 -2.5,-5.3" fill="#FDDDD2" />
<polygon points="-2.5,5.4 -7.1,22.7 -13.7,21.2" fill="#FDDDD2" />
<polygon points="13.7,-20.3 7.1,-21.8 2.5,-5.3" fill="#FDDDD2" />
<polygon points="2.5,5.4 7.1,22.7 13.7,21.2" fill="#FDDDD2" />
</g>
<g>
<rect x="76" y="82.4" width="65.6" height="3" fill="#FBCBA4" />
<polyline points="80,110.5 103,85 134,112.6" fill="none" stroke="#F6A070" stroke-width="0.9" />
<line x1="103" y1="78" x2="103" y2="85" stroke="#F6A070" stroke-width="0.9" />
<line x1="80.5" y1="117.4" x2="101" y2="117.4" stroke="#F9C860" stroke-width="0.8" />
<line x1="101.6" y1="115.2" x2="117" y2="115.2" stroke="#86D6D6" stroke-width="1.2" />
<line x1="101.6" y1="113.6" x2="133" y2="113.6" stroke="#FBCBA4" stroke-width="1" />
<line x1="132.2" y1="116.6" x2="132.2" y2="131.4" stroke="#F3D9A8" stroke-width="1.2" />
<path d="M117.2 116.4A15 15 0 0 0 132.2 131.4" fill="none" stroke="#2a2a2a" stroke-width="0.9" />
<rect x="137" y="170" width="3" height="18" fill="#FBE7B8" />
<path d="M121 186.4A16 16 0 0 1 137 170.4" fill="none" stroke="#2a2a2a" stroke-width="0.9" />
<line x1="104.4" y1="201" x2="104.4" y2="204" stroke="#cfeef5" stroke-width="0.8" />
<path d="M103.2 202.6A14.4 14.4 0 0 0 117.6 217" fill="none" stroke="#1d3a48" stroke-width="0.8" />
<line x1="141.8" y1="94.2" x2="157.4" y2="94.6" stroke="#F4E070" stroke-width="1" />
<path d="M157.6 94.2A15.8 15.8 0 0 1 141.8 110" fill="none" stroke="#2a2a2a" stroke-width="0.9" />
<rect x="154.4" y="85" width="53.6" height="2.6" fill="#FBCBA4" />
<line x1="157.6" y1="90.6" x2="205" y2="90.6" stroke="#86D6D6" stroke-width="1.6" />
<path d="M176.6 229.4A18 18 0 0 1 194.6 211.4" fill="none" stroke="#2a2a2a" stroke-width="0.9" />
<line x1="225.8" y1="130.6" x2="239.7" y2="130.6" stroke="#FBCBA4" stroke-width="0.8" />
<line x1="225.8" y1="132.4" x2="239.7" y2="132.4" stroke="#86D6D6" stroke-width="1" />
<line x1="213.2" y1="158.7" x2="237.6" y2="158.7" stroke="#F2DC78" stroke-width="0.8" />
<line x1="213.2" y1="159.6" x2="237.6" y2="159.6" stroke="#86B9B4" stroke-width="0.9" />
<line x1="213.2" y1="164.9" x2="237.6" y2="164.9" stroke="#F2DC78" stroke-width="0.8" />
<line x1="213.2" y1="165.8" x2="237.6" y2="165.8" stroke="#86B9B4" stroke-width="0.9" />
<line x1="213.2" y1="171.1" x2="237.6" y2="171.1" stroke="#F2DC78" stroke-width="0.8" />
<line x1="213.2" y1="172" x2="237.6" y2="172" stroke="#86B9B4" stroke-width="0.9" />
<line x1="213.2" y1="177.3" x2="237.6" y2="177.3" stroke="#F2DC78" stroke-width="0.8" />
<line x1="213.2" y1="178.2" x2="237.6" y2="178.2" stroke="#86B9B4" stroke-width="0.9" />
<line x1="213.2" y1="183.5" x2="237.6" y2="183.5" stroke="#F2DC78" stroke-width="0.8" />
<line x1="213.2" y1="184.4" x2="237.6" y2="184.4" stroke="#86B9B4" stroke-width="0.9" />
<line x1="213.2" y1="189.7" x2="237.6" y2="189.7" stroke="#F2DC78" stroke-width="0.8" />
<line x1="213.2" y1="190.6" x2="237.6" y2="190.6" stroke="#86B9B4" stroke-width="0.9" />
<line x1="213.2" y1="195.9" x2="237.6" y2="195.9" stroke="#F2DC78" stroke-width="0.8" />
<line x1="213.2" y1="196.8" x2="237.6" y2="196.8" stroke="#86B9B4" stroke-width="0.9" />
<line x1="213.2" y1="202.1" x2="237.6" y2="202.1" stroke="#F2DC78" stroke-width="0.8" />
<line x1="213.2" y1="203" x2="237.6" y2="203" stroke="#86B9B4" stroke-width="0.9" />
<line x1="213.2" y1="208.3" x2="237.6" y2="208.3" stroke="#F2DC78" stroke-width="0.8" />
<line x1="213.2" y1="209.2" x2="237.6" y2="209.2" stroke="#86B9B4" stroke-width="0.9" />
<rect x="237.6" y="158.6" width="2.3" height="51.4" fill="#F2F8EC" />
<line x1="238" y1="158.6" x2="238" y2="210" stroke="#86BCCB" stroke-width="0.7" />
<line x1="219.8" y1="228.8" x2="239.7" y2="228.8" stroke="#FBCBA4" stroke-width="1" />
<line x1="199.5" y1="244.4" x2="218.3" y2="244.4" stroke="#FBCBA4" stroke-width="0.9" />
<line x1="196.2" y1="210" x2="196.2" y2="229" stroke="#FBCBA4" stroke-width="0.8" />
<path d="M199.7 246.4A18.6 18.6 0 0 0 218.3 265" fill="none" stroke="#2a2a2a" stroke-width="0.9" />
<rect x="200.6" y="284" width="1.4" height="13.4" fill="#E6F6F4" />
<path d="M216.4 283.8A14 14 0 0 1 202.4 297.8" fill="none" stroke="#1d3a48" stroke-width="0.8" />
<line x1="110" y1="349.6" x2="141.6" y2="349.6" stroke="#86D6D6" stroke-width="1.4" />
<line x1="110" y1="351" x2="158" y2="351" stroke="#FFFBE0" stroke-width="1" />
<path d="M142 349.8A16.2 16.2 0 0 1 158.2 333.6" fill="none" stroke="#2a2a2a" stroke-width="0.9" />
<rect x="80" y="379.4" width="89.4" height="2.9" fill="#FBCBA4" />
<line x1="80" y1="352.8" x2="170" y2="352.8" stroke="#F6A070" stroke-width="0.9" />
<line x1="80" y1="353" x2="169" y2="380.4" stroke="#F6A070" stroke-width="0.9" />
<rect x="178.2" y="324" width="1.4" height="15" fill="#FBE9C0" />
<path d="M179 339A15.2 15.2 0 0 0 194.2 323.8" fill="none" stroke="#2a2a2a" stroke-width="0.9" />
<line x1="173" y1="357" x2="188" y2="357" stroke="#B8B8C0" stroke-width="1.2" />
<rect x="170.6" y="356" width="3.6" height="16.6" fill="#FDE8B8" />
<path d="M188.4 357A15.4 15.4 0 0 1 173 372.4" fill="none" stroke="#2a2a2a" stroke-width="0.9" />
<line x1="170.8" y1="356" x2="170.8" y2="372.6" stroke="#F9C860" stroke-width="0.6" />
<line x1="191.6" y1="401.2" x2="223" y2="401.2" stroke="#86D6D6" stroke-width="1.4" />
<line x1="191.6" y1="402.8" x2="223" y2="402.8" stroke="#F8E48C" stroke-width="0.8" />
<rect x="188" y="405" width="38" height="1.8" fill="#FBCBA4" />
</g>
<g transform="translate(479.4 0) scale(-1 1)">
<rect x="76" y="82.4" width="65.6" height="3" fill="#FBCBA4" />
<polyline points="80,110.5 103,85 134,112.6" fill="none" stroke="#F6A070" stroke-width="0.9" />
<line x1="103" y1="78" x2="103" y2="85" stroke="#F6A070" stroke-width="0.9" />
<line x1="80.5" y1="117.4" x2="101" y2="117.4" stroke="#F9C860" stroke-width="0.8" />
<line x1="101.6" y1="115.2" x2="117" y2="115.2" stroke="#86D6D6" stroke-width="1.2" />
<line x1="101.6" y1="113.6" x2="133" y2="113.6" stroke="#FBCBA4" stroke-width="1" />
<line x1="132.2" y1="116.6" x2="132.2" y2="131.4" stroke="#F3D9A8" stroke-width="1.2" />
<path d="M117.2 116.4A15 15 0 0 0 132.2 131.4" fill="none" stroke="#2a2a2a" stroke-width="0.9" />
<rect x="137" y="170" width="3" height="18" fill="#FBE7B8" />
<path d="M121 186.4A16 16 0 0 1 137 170.4" fill="none" stroke="#2a2a2a" stroke-width="0.9" />
<line x1="104.4" y1="201" x2="104.4" y2="204" stroke="#cfeef5" stroke-width="0.8" />
<path d="M103.2 202.6A14.4 14.4 0 0 0 117.6 217" fill="none" stroke="#1d3a48" stroke-width="0.8" />
<line x1="141.8" y1="94.2" x2="157.4" y2="94.6" stroke="#F4E070" stroke-width="1" />
<path d="M157.6 94.2A15.8 15.8 0 0 1 141.8 110" fill="none" stroke="#2a2a2a" stroke-width="0.9" />
<rect x="154.4" y="85" width="53.6" height="2.6" fill="#FBCBA4" />
<line x1="157.6" y1="90.6" x2="205" y2="90.6" stroke="#86D6D6" stroke-width="1.6" />
<path d="M176.6 229.4A18 18 0 0 1 194.6 211.4" fill="none" stroke="#2a2a2a" stroke-width="0.9" />
<line x1="225.8" y1="130.6" x2="239.7" y2="130.6" stroke="#FBCBA4" stroke-width="0.8" />
<line x1="225.8" y1="132.4" x2="239.7" y2="132.4" stroke="#86D6D6" stroke-width="1" />
<line x1="213.2" y1="158.7" x2="237.6" y2="158.7" stroke="#F2DC78" stroke-width="0.8" />
<line x1="213.2" y1="159.6" x2="237.6" y2="159.6" stroke="#86B9B4" stroke-width="0.9" />
<line x1="213.2" y1="164.9" x2="237.6" y2="164.9" stroke="#F2DC78" stroke-width="0.8" />
<line x1="213.2" y1="165.8" x2="237.6" y2="165.8" stroke="#86B9B4" stroke-width="0.9" />
<line x1="213.2" y1="171.1" x2="237.6" y2="171.1" stroke="#F2DC78" stroke-width="0.8" />
<line x1="213.2" y1="172" x2="237.6" y2="172" stroke="#86B9B4" stroke-width="0.9" />
<line x1="213.2" y1="177.3" x2="237.6" y2="177.3" stroke="#F2DC78" stroke-width="0.8" />
<line x1="213.2" y1="178.2" x2="237.6" y2="178.2" stroke="#86B9B4" stroke-width="0.9" />
<line x1="213.2" y1="183.5" x2="237.6" y2="183.5" stroke="#F2DC78" stroke-width="0.8" />
<line x1="213.2" y1="184.4" x2="237.6" y2="184.4" stroke="#86B9B4" stroke-width="0.9" />
<line x1="213.2" y1="189.7" x2="237.6" y2="189.7" stroke="#F2DC78" stroke-width="0.8" />
<line x1="213.2" y1="190.6" x2="237.6" y2="190.6" stroke="#86B9B4" stroke-width="0.9" />
<line x1="213.2" y1="195.9" x2="237.6" y2="195.9" stroke="#F2DC78" stroke-width="0.8" />
<line x1="213.2" y1="196.8" x2="237.6" y2="196.8" stroke="#86B9B4" stroke-width="0.9" />
<line x1="213.2" y1="202.1" x2="237.6" y2="202.1" stroke="#F2DC78" stroke-width="0.8" />
<line x1="213.2" y1="203" x2="237.6" y2="203" stroke="#86B9B4" stroke-width="0.9" />
<line x1="213.2" y1="208.3" x2="237.6" y2="208.3" stroke="#F2DC78" stroke-width="0.8" />
<line x1="213.2" y1="209.2" x2="237.6" y2="209.2" stroke="#86B9B4" stroke-width="0.9" />
<rect x="237.6" y="158.6" width="2.3" height="51.4" fill="#F2F8EC" />
<line x1="238" y1="158.6" x2="238" y2="210" stroke="#86BCCB" stroke-width="0.7" />
<line x1="219.8" y1="228.8" x2="239.7" y2="228.8" stroke="#FBCBA4" stroke-width="1" />
<line x1="199.5" y1="244.4" x2="218.3" y2="244.4" stroke="#FBCBA4" stroke-width="0.9" />
<line x1="196.2" y1="210" x2="196.2" y2="229" stroke="#FBCBA4" stroke-width="0.8" />
<path d="M199.7 246.4A18.6 18.6 0 0 0 218.3 265" fill="none" stroke="#2a2a2a" stroke-width="0.9" />
<rect x="200.6" y="284" width="1.4" height="13.4" fill="#E6F6F4" />
<path d="M216.4 283.8A14 14 0 0 1 202.4 297.8" fill="none" stroke="#1d3a48" stroke-width="0.8" />
<line x1="110" y1="349.6" x2="141.6" y2="349.6" stroke="#86D6D6" stroke-width="1.4" />
<line x1="110" y1="351" x2="158" y2="351" stroke="#FFFBE0" stroke-width="1" />
<path d="M142 349.8A16.2 16.2 0 0 1 158.2 333.6" fill="none" stroke="#2a2a2a" stroke-width="0.9" />
<rect x="80" y="379.4" width="89.4" height="2.9" fill="#FBCBA4" />
<line x1="80" y1="352.8" x2="170" y2="352.8" stroke="#F6A070" stroke-width="0.9" />
<line x1="80" y1="353" x2="169" y2="380.4" stroke="#F6A070" stroke-width="0.9" />
<rect x="178.2" y="324" width="1.4" height="15" fill="#FBE9C0" />
<path d="M179 339A15.2 15.2 0 0 0 194.2 323.8" fill="none" stroke="#2a2a2a" stroke-width="0.9" />
<line x1="173" y1="357" x2="188" y2="357" stroke="#B8B8C0" stroke-width="1.2" />
<rect x="170.6" y="356" width="3.6" height="16.6" fill="#FDE8B8" />
<path d="M188.4 357A15.4 15.4 0 0 1 173 372.4" fill="none" stroke="#2a2a2a" stroke-width="0.9" />
<line x1="170.8" y1="356" x2="170.8" y2="372.6" stroke="#F9C860" stroke-width="0.6" />
<line x1="191.6" y1="401.2" x2="223" y2="401.2" stroke="#86D6D6" stroke-width="1.4" />
<line x1="191.6" y1="402.8" x2="223" y2="402.8" stroke="#F8E48C" stroke-width="0.8" />
<rect x="188" y="405" width="38" height="1.8" fill="#FBCBA4" />
</g>
<g transform="translate(324 0)">
<rect x="76" y="82.4" width="65.6" height="3" fill="#FBCBA4" />
<polyline points="80,110.5 103,85 134,112.6" fill="none" stroke="#F6A070" stroke-width="0.9" />
<line x1="103" y1="78" x2="103" y2="85" stroke="#F6A070" stroke-width="0.9" />
<line x1="80.5" y1="117.4" x2="101" y2="117.4" stroke="#F9C860" stroke-width="0.8" />
<line x1="101.6" y1="115.2" x2="117" y2="115.2" stroke="#86D6D6" stroke-width="1.2" />
<line x1="101.6" y1="113.6" x2="133" y2="113.6" stroke="#FBCBA4" stroke-width="1" />
<line x1="132.2" y1="116.6" x2="132.2" y2="131.4" stroke="#F3D9A8" stroke-width="1.2" />
<path d="M117.2 116.4A15 15 0 0 0 132.2 131.4" fill="none" stroke="#2a2a2a" stroke-width="0.9" />
<rect x="137" y="170" width="3" height="18" fill="#FBE7B8" />
<path d="M121 186.4A16 16 0 0 1 137 170.4" fill="none" stroke="#2a2a2a" stroke-width="0.9" />
<line x1="104.4" y1="201" x2="104.4" y2="204" stroke="#cfeef5" stroke-width="0.8" />
<path d="M103.2 202.6A14.4 14.4 0 0 0 117.6 217" fill="none" stroke="#1d3a48" stroke-width="0.8" />
</g>
<line x1="466" y1="94.2" x2="480" y2="95.4" stroke="#F4E070" stroke-width="1" />
<path d="M480.94 95.52A15.2 15.2 0 0 1 464.48 109.34" fill="none" stroke="#2a2a2a" stroke-width="0.9" />
<polygon points="482.8,86.6 535.4,91.2 535.1,94.2 482.5,89.6" fill="#FBCBA4" />
<line x1="485.8" y1="92.4" x2="532.3" y2="96.4" stroke="#86D6D6" stroke-width="1.6" />
<path d="M493.01 232.76A18.4 18.4 0 0 1 511.4 215" fill="none" stroke="#2a2a2a" stroke-width="0.9" />
<line x1="652.8" y1="110.5" x2="666.5" y2="112" stroke="#BFD8F0" stroke-width="1" />
<path d="M652.18 110.49A14.4 14.4 0 0 0 666 126.39" fill="none" stroke="#2a2a2a" stroke-width="0.9" />
<polygon points="598,96.6 652,101.3 651.7,104.3 597.7,99.6" fill="#FBCBA4" />
<line x1="601" y1="102.7" x2="648.4" y2="106.4" stroke="#86D6D6" stroke-width="1.6" />
<line x1="550.2" y1="138.6" x2="577" y2="140.8" stroke="#FBCBA4" stroke-width="0.8" />
<line x1="550" y1="140.3" x2="577" y2="142.5" stroke="#86D6D6" stroke-width="1" />
<g transform="translate(536.2 141.3) rotate(4.3)">
<line x1="0" y1="27.5" x2="24.6" y2="27.5" stroke="#F2DC78" stroke-width="0.8"/>
<line x1="0" y1="28.4" x2="24.6" y2="28.4" stroke="#86B9B4" stroke-width="0.9"/>
<line x1="28.4" y1="27.5" x2="54" y2="27.5" stroke="#F2DC78" stroke-width="0.8"/>
<line x1="28.4" y1="28.4" x2="54" y2="28.4" stroke="#86B9B4" stroke-width="0.9"/>
<line x1="0" y1="33.6" x2="24.6" y2="33.6" stroke="#F2DC78" stroke-width="0.8"/>
<line x1="0" y1="34.5" x2="24.6" y2="34.5" stroke="#86B9B4" stroke-width="0.9"/>
<line x1="28.4" y1="33.6" x2="54" y2="33.6" stroke="#F2DC78" stroke-width="0.8"/>
<line x1="28.4" y1="34.5" x2="54" y2="34.5" stroke="#86B9B4" stroke-width="0.9"/>
<line x1="0" y1="39.7" x2="24.6" y2="39.7" stroke="#F2DC78" stroke-width="0.8"/>
<line x1="0" y1="40.6" x2="24.6" y2="40.6" stroke="#86B9B4" stroke-width="0.9"/>
<line x1="28.4" y1="39.7" x2="54" y2="39.7" stroke="#F2DC78" stroke-width="0.8"/>
<line x1="28.4" y1="40.6" x2="54" y2="40.6" stroke="#86B9B4" stroke-width="0.9"/>
<line x1="0" y1="45.8" x2="24.6" y2="45.8" stroke="#F2DC78" stroke-width="0.8"/>
<line x1="0" y1="46.7" x2="24.6" y2="46.7" stroke="#86B9B4" stroke-width="0.9"/>
<line x1="28.4" y1="45.8" x2="54" y2="45.8" stroke="#F2DC78" stroke-width="0.8"/>
<line x1="28.4" y1="46.7" x2="54" y2="46.7" stroke="#86B9B4" stroke-width="0.9"/>
<line x1="0" y1="51.9" x2="24.6" y2="51.9" stroke="#F2DC78" stroke-width="0.8"/>
<line x1="0" y1="52.8" x2="24.6" y2="52.8" stroke="#86B9B4" stroke-width="0.9"/>
<line x1="28.4" y1="51.9" x2="54" y2="51.9" stroke="#F2DC78" stroke-width="0.8"/>
<line x1="28.4" y1="52.8" x2="54" y2="52.8" stroke="#86B9B4" stroke-width="0.9"/>
<line x1="0" y1="58" x2="24.6" y2="58" stroke="#F2DC78" stroke-width="0.8"/>
<line x1="0" y1="58.9" x2="24.6" y2="58.9" stroke="#86B9B4" stroke-width="0.9"/>
<line x1="28.4" y1="58" x2="54" y2="58" stroke="#F2DC78" stroke-width="0.8"/>
<line x1="28.4" y1="58.9" x2="54" y2="58.9" stroke="#86B9B4" stroke-width="0.9"/>
<line x1="0" y1="64.1" x2="24.6" y2="64.1" stroke="#F2DC78" stroke-width="0.8"/>
<line x1="0" y1="65" x2="24.6" y2="65" stroke="#86B9B4" stroke-width="0.9"/>
<line x1="28.4" y1="64.1" x2="54" y2="64.1" stroke="#F2DC78" stroke-width="0.8"/>
<line x1="28.4" y1="65" x2="54" y2="65" stroke="#86B9B4" stroke-width="0.9"/>
<line x1="0" y1="70.2" x2="24.6" y2="70.2" stroke="#F2DC78" stroke-width="0.8"/>
<line x1="0" y1="71.1" x2="24.6" y2="71.1" stroke="#86B9B4" stroke-width="0.9"/>
<line x1="28.4" y1="70.2" x2="54" y2="70.2" stroke="#F2DC78" stroke-width="0.8"/>
<line x1="28.4" y1="71.1" x2="54" y2="71.1" stroke="#86B9B4" stroke-width="0.9"/>
<line x1="0" y1="76.3" x2="24.6" y2="76.3" stroke="#F2DC78" stroke-width="0.8"/>
<line x1="0" y1="77.2" x2="24.6" y2="77.2" stroke="#86B9B4" stroke-width="0.9"/>
<line x1="28.4" y1="76.3" x2="54" y2="76.3" stroke="#F2DC78" stroke-width="0.8"/>
<line x1="28.4" y1="77.2" x2="54" y2="77.2" stroke="#86B9B4" stroke-width="0.9"/>
<rect x="24.8" y="26.4" width="3.6" height="51.6" fill="#F2F8EC" stroke="#86BCCB" stroke-width="0.6"/>
<line x1="12" y1="26.6" x2="12" y2="81" stroke="#5FB0D0" stroke-width="0.8"/>
<path d="M10 28.6L12 26.2L14 28.6M10 53L12 50.8L14 53" fill="none" stroke="#3A8EC0" stroke-width="0.9"/>
<line x1="2.5" y1="55.6" x2="25.5" y2="41.6" stroke="#6FB8D4" stroke-width="0.9"/>
<line x1="40.6" y1="21.5" x2="40.6" y2="74.6" stroke="#5FB0D0" stroke-width="0.8"/>
<path d="M38.6 72.2L40.6 74.6L42.6 72.2" fill="none" stroke="#3A8EC0" stroke-width="0.9"/>
<circle cx="40.6" cy="24" r="0.8" fill="#3A8EC0"/>
</g>
<line x1="536.8" y1="241.2" x2="578" y2="241.2" stroke="#FBCBA4" stroke-width="1" />
<line x1="515" y1="249.9" x2="532.2" y2="250.5" stroke="#FBCBA4" stroke-width="0.9" />
<line x1="573.8" y1="253.2" x2="592.4" y2="256.6" stroke="#FBCBA4" stroke-width="0.9" />
<line x1="512.7" y1="215" x2="512.7" y2="234" stroke="#FBCBA4" stroke-width="0.8" />
<line x1="599.6" y1="223" x2="597.4" y2="243" stroke="#FBCBA4" stroke-width="0.8" />
<polyline points="543.5,249 547.7,245.3 561.8,252" fill="none" stroke="#F6A070" stroke-width="0.9" />
<polygon points="538.8,255.3 566.6,257.6 564.4,282.4 536.8,280" fill="none" stroke="#A9C4A0" stroke-width="0.7"/>
<line x1="538.8" y1="255.3" x2="564.4" y2="282.4" stroke="#8FB59A" stroke-width="0.7" />
<line x1="566.6" y1="257.6" x2="536.8" y2="280" stroke="#8FB59A" stroke-width="0.7" />
<polygon points="536.7,281.8 564.3,284.2 564,287 536.5,284.6" fill="#FBFCE6" stroke="#A9C4A0" stroke-width="0.6"/>
<path d="M513.4 250.8A18.6 18.6 0 0 0 531.35 269.39" fill="none" stroke="#2a2a2a" stroke-width="0.9" />
<polygon points="571.6,256 573.2,256.2 572,274.4 570.4,274.2" fill="#FBF6C8" />
<path d="M573.28 275.39A19.4 19.4 0 0 0 591.89 258.03" fill="none" stroke="#2a2a2a" stroke-width="0.9" />
<path d="M601.08 223.41A19.6 19.6 0 0 1 619.99 242.32" fill="none" stroke="#2a2a2a" stroke-width="0.9" />
<line x1="671.3" y1="134.4" x2="670.6" y2="149.4" stroke="#BFD8F0" stroke-width="1.1" />
<path d="M670.87 149.59A15.2 15.2 0 0 0 686.37 137.04" fill="none" stroke="#2a2a2a" stroke-width="0.9" />
<polygon points="656.31,187.44 653.91,203.84 656.09,204.16 658.49,187.76" fill="#FBE7B8" />
<path d="M657.88 187.76A16.4 16.4 0 0 1 671.84 206.28" fill="none" stroke="#2a2a2a" stroke-width="0.9" />
<line x1="688.2" y1="136.9" x2="702.8" y2="139.6" stroke="#86D6D6" stroke-width="1.3" />
<polygon points="668.9,100.4 730.6,111.2 730,114.6 668.3,103.8" fill="#FBCBA4" />
<polyline points="667.8,131 707.2,109.8 725,141" fill="none" stroke="#F6A070" stroke-width="0.9" />
<line x1="707.4" y1="102.2" x2="707.2" y2="109.8" stroke="#F6A070" stroke-width="0.9" />
<line x1="668.8" y1="104" x2="667.6" y2="131" stroke="#F6A070" stroke-width="0.6" />
<path d="M683.72 223.7A13 13 0 0 1 669.19 233.87" fill="none" stroke="#1d3a48" stroke-width="0.8" />
<path d="M526.32 289.46A14 14 0 0 1 511.42 301.97" fill="none" stroke="#1d3a48" stroke-width="0.8" />
<path d="M572.68 292.94A14 14 0 0 0 584.65 308.26" fill="none" stroke="#e8f8ff" stroke-width="0.8" />
<line x1="417.8" y1="349.6" x2="449.2" y2="349.6" stroke="#86D6D6" stroke-width="1.4" />
<line x1="417.8" y1="351" x2="464" y2="351" stroke="#FFFBE0" stroke-width="1" />
<line x1="464.6" y1="333.4" x2="464.6" y2="350.6" stroke="#111" stroke-width="1.0" />
<path d="M448.8 349.6A15.8 15.8 0 0 1 464.6 333.8" fill="none" stroke="#2a2a2a" stroke-width="0.9" />
<rect x="400" y="379.4" width="76.8" height="2.9" fill="#FBCBA4" />
<line x1="402.3" y1="353" x2="476" y2="353" stroke="#F6A070" stroke-width="0.9" />
<line x1="402.3" y1="379.3" x2="473.6" y2="353.8" stroke="#F6A070" stroke-width="0.9" />
<line x1="473.6" y1="353.8" x2="476.4" y2="379.3" stroke="#F6A070" stroke-width="0.9" />
<line x1="401.2" y1="353.4" x2="401.2" y2="380" stroke="#F6A070" stroke-width="0.6" />
<polyline points="398.4,354 401,380 403.4,354" fill="none" stroke="#F6A070" stroke-width="0.6" />
<line x1="401.4" y1="86" x2="401.4" y2="113" stroke="#F6A070" stroke-width="0.9" />
<path d="M484.97 340.91A15.6 15.6 0 0 0 502.05 327.57" fill="none" stroke="#2a2a2a" stroke-width="0.9" />
<polygon points="484.6,325.4 486.2,325.5 485.4,341 483.8,340.9" fill="#FBE9C0" />
<line x1="478.4" y1="356.9" x2="495.4" y2="356.9" stroke="#B8B8C0" stroke-width="1.2" />
<polygon points="477.4,356.4 481.2,356.6 480.8,372.4 477,372.2" fill="#FDE8B8" />
<path d="M494.8 357A16.2 16.2 0 0 1 478.6 373.2" fill="none" stroke="#2a2a2a" stroke-width="0.9" />
<path d="M590.22 335.15A16.2 16.2 0 0 0 605.83 352.19" fill="none" stroke="#2a2a2a" stroke-width="0.9" />
<line x1="592.4" y1="366" x2="608" y2="367.3" stroke="#E8E8EC" stroke-width="1.2" />
<path d="M592.06 365.99A15 15 0 0 0 604.4 382.07" fill="none" stroke="#2a2a2a" stroke-width="0.9" />
<line x1="491.4" y1="404.2" x2="522.4" y2="406.9" stroke="#86D6D6" stroke-width="1.4" />
<line x1="491.2" y1="405.8" x2="522.2" y2="408.5" stroke="#F8E48C" stroke-width="0.8" />
<line x1="556.4" y1="409.9" x2="587" y2="412.6" stroke="#86D6D6" stroke-width="1.4" />
<line x1="556.2" y1="411.5" x2="586.8" y2="414.2" stroke="#F8E48C" stroke-width="0.8" />
<polygon points="488,407 525.6,410.4 525.4,412.2 487.8,408.8" fill="#FBCBA4" />
<polygon points="552.4,412.6 590,416 589.8,417.8 552.2,414.4" fill="#FBCBA4" />
<line x1="626" y1="348" x2="624.3" y2="364" stroke="#E8F0F8" stroke-width="1.1" />
<path d="M626.11 349.68A14.4 14.4 0 0 1 638.99 364.5" fill="none" stroke="#2a2a2a" stroke-width="0.9" />
<line x1="639.2" y1="366.6" x2="669" y2="371" stroke="#86D6D6" stroke-width="1.3" />
<polygon points="606.9,390.2 678.6,403.4 678,406.8 606.3,393.6" fill="#FBCBA4" />
<line x1="609.3" y1="364.6" x2="682.4" y2="378" stroke="#F6A070" stroke-width="0.9" />
<line x1="607.6" y1="391.6" x2="682.3" y2="378" stroke="#F6A070" stroke-width="0.9" />
<line x1="609.2" y1="364.6" x2="607" y2="391" stroke="#F6A070" stroke-width="0.6" />
<line x1="682.4" y1="378" x2="679.4" y2="404" stroke="#F6A070" stroke-width="0.6" />
<line x1="158.2" y1="333.4" x2="158.2" y2="350.6" stroke="#111" stroke-width="1.1" />
<line x1="321.3" y1="333.4" x2="321.3" y2="350.6" stroke="#F6F6EC" stroke-width="1" />
<rect x="367.4" y="347.4" width="2.6" height="4" fill="#9B9BA8" />
<line x1="225" y1="160.4" x2="225" y2="214" stroke="#5FB0D0" stroke-width="0.8" />
<path d="M223 162.4L225 160L227 162.4" fill="none" stroke="#3A8EC0" stroke-width="0.9" />
<path d="M223 186.4L225 184.4L227 186.4" fill="none" stroke="#3A8EC0" stroke-width="0.9" />
<line x1="216" y1="190" x2="238.5" y2="177" stroke="#6FB8D4" stroke-width="0.9" />
<line x1="253.6" y1="156" x2="253.6" y2="209" stroke="#5FB0D0" stroke-width="0.8" />
<path d="M251.6 206.4L253.6 208.8L255.6 206.4" fill="none" stroke="#3A8EC0" stroke-width="0.9" />
<circle cx="253.6" cy="158.6" r="0.8" fill="#3A8EC0"/>
<polyline points="228.8,244.5 232.5,232.5 249,243" fill="none" stroke="#F6A070" stroke-width="0.9" />
<rect x="225.8" y="247.8" width="27.6" height="26.5" fill="none" stroke="#A9C4A0" stroke-width="0.7"/>
<rect x="225.8" y="275.8" width="27.6" height="2.7" fill="#FBFCE6" stroke="#A9C4A0" stroke-width="0.6"/>
<line x1="225.8" y1="247.8" x2="253.4" y2="274.3" stroke="#8FB59A" stroke-width="0.7" />
<line x1="225.8" y1="274.3" x2="253.4" y2="247.8" stroke="#8FB59A" stroke-width="0.7" />
<text x="142" y="214.7" font-family="Liberation Sans, sans-serif" font-weight="700" font-size="18" fill="#14141c" stroke="#14141c" stroke-width="0.7" stroke-linejoin="round">V18</text>
<text x="317.5" y="211.8" font-family="Liberation Sans, sans-serif" font-weight="700" font-size="18" fill="#14141c" stroke="#14141c" stroke-width="0.7" stroke-linejoin="round">V15</text>
<text x="148.4" y="298.9" font-family="Liberation Sans, sans-serif" font-weight="700" font-size="18" fill="#14141c" stroke="#14141c" stroke-width="0.7" stroke-linejoin="round">V17</text>
<text x="312.9" y="304.5" font-family="Liberation Sans, sans-serif" font-weight="700" font-size="18" fill="#14141c" stroke="#14141c" stroke-width="0.7" stroke-linejoin="round">V16</text>
<text x="460" y="216.2" font-family="Liberation Sans, sans-serif" font-weight="700" font-size="18" fill="#14141c" stroke="#14141c" stroke-width="0.7" stroke-linejoin="round">G18</text>
<text x="625.8" y="231.5" font-family="Liberation Sans, sans-serif" font-weight="700" font-size="18" fill="#14141c" stroke="#14141c" stroke-width="0.7" stroke-linejoin="round">G15</text>
<text x="464.6" y="307.7" font-family="Liberation Sans, sans-serif" font-weight="700" font-size="18" fill="#14141c" stroke="#14141c" stroke-width="0.7" stroke-linejoin="round">G17</text>
<text x="612.2" y="319.7" font-family="Liberation Sans, sans-serif" font-weight="700" font-size="18" fill="#14141c" stroke="#14141c" stroke-width="0.7" stroke-linejoin="round">G16</text>
<g opacity="0.62">
<g fill="none" stroke-linecap="round">
<g stroke="#BEBEB4" stroke-width="1.0" transform="translate(0 0)">
<path d="M613 412.3L643.8 395.2L676.6 412.3"/>
<path d="M664.8 399.4V406.4"/>
<path d="M624 432L653 415L672.7 425.4"/>
<path d="M625.4 421V416.2H632"/>
<path d="M673.6 412V427"/>
<path d="M674 432.6H788"/>
</g>
<g stroke="#FFFFFA" stroke-width="0.9" transform="translate(0 1.0)">
<path d="M613 412.3L643.8 395.2L676.6 412.3"/>
<path d="M664.8 399.4V406.4"/>
<path d="M624 432L653 415L672.7 425.4"/>
<path d="M625.4 421V416.2H632"/>
<path d="M673.6 412V427"/>
<path d="M674 432.6H788"/>
</g>
</g>
<text x="679.2" y="426.6" font-family="Liberation Sans, sans-serif" font-weight="700" font-size="11.5" fill="#FFFFF6" textLength="110.5" lengthAdjust="spacingAndGlyphs">discover Bulgaria</text>
<text x="679.2" y="425.4" font-family="Liberation Sans, sans-serif" font-weight="700" font-size="11.5" fill="#C4C4BA" textLength="110.5" lengthAdjust="spacingAndGlyphs">discover Bulgaria</text>
<text x="590.6" y="454.3" font-family="Liberation Sans, sans-serif" font-style="italic" fill="#FFFFF6" stroke="#B8B8AE" stroke-width="0.8" lengthAdjust="spacingAndGlyphs" font-size="22" textLength="14">B</text>
<text x="605.4" y="454.3" font-family="Liberation Sans, sans-serif" font-style="italic" fill="#FFFFF6" stroke="#B8B8AE" stroke-width="0.8" lengthAdjust="spacingAndGlyphs" font-size="16.4" textLength="34">EST</text>
<text x="640.6" y="454.3" font-family="Liberation Sans, sans-serif" font-style="italic" fill="#FFFFF6" stroke="#B8B8AE" stroke-width="0.8" lengthAdjust="spacingAndGlyphs" font-size="22" font-weight="700" textLength="36">BG</text>
<text x="677.4" y="454.3" font-family="Liberation Sans, sans-serif" font-style="italic" fill="#FFFFF6" stroke="#B8B8AE" stroke-width="0.8" lengthAdjust="spacingAndGlyphs" font-size="22" textLength="13.6">P</text>
<text x="691" y="454.3" font-family="Liberation Sans, sans-serif" font-style="italic" fill="#FFFFF6" stroke="#B8B8AE" stroke-width="0.8" lengthAdjust="spacingAndGlyphs" font-size="16.4" textLength="96">ROPERTIES</text>
</g>
</svg></body></html>
